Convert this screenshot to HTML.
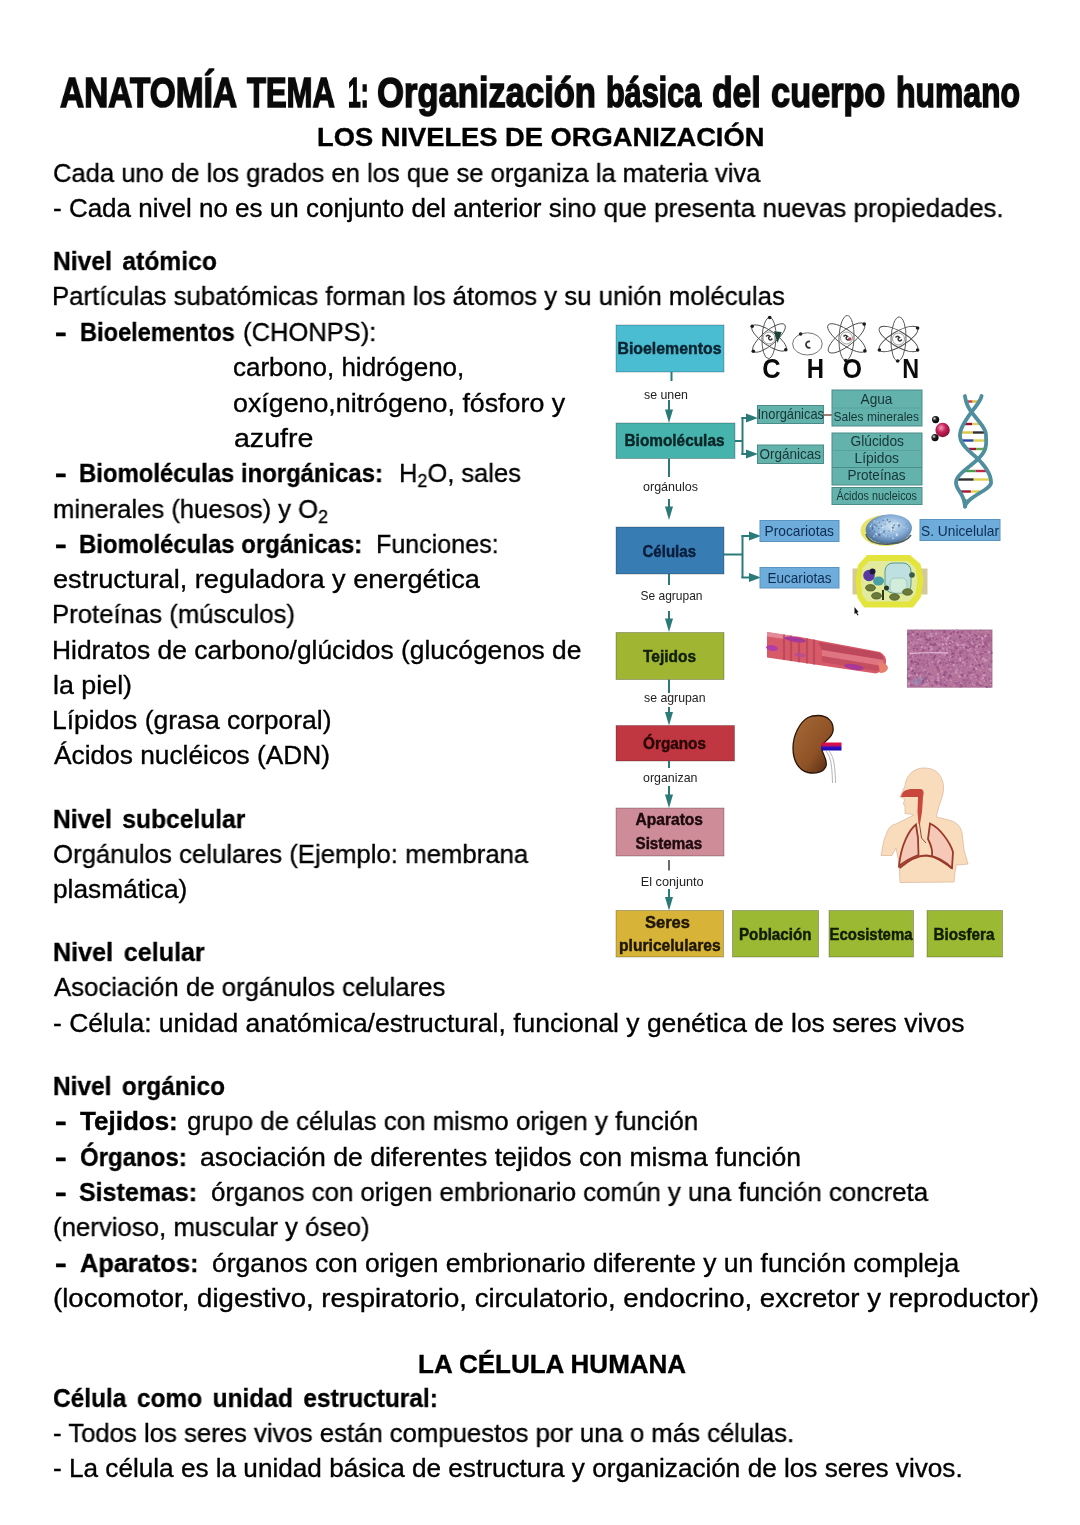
<!DOCTYPE html><html><head><meta charset="utf-8"><title>Anatomía Tema 1</title><style>
*{margin:0;padding:0;box-sizing:border-box}
html,body{width:1080px;height:1525px;background:#fff;overflow:hidden}
body{position:relative;font-family:"Liberation Sans",sans-serif;color:#000}
.ln{-webkit-text-stroke:0.35px #000}
.ln{position:absolute;white-space:nowrap;line-height:1;transform-origin:0 0;will-change:transform}
.ln b{font-weight:700}
.ln .dash{-webkit-text-stroke:0.6px #000}
.ln sub{font-size:0.7em;vertical-align:baseline;position:relative;top:0.28em;line-height:0}
.ttl{font-weight:700;color:#0a0a0a;-webkit-text-stroke:1.6px #0a0a0a}
.bold{font-weight:700}
.cal{}
.bm{display:inline-block;width:0;height:0}
#dg{position:absolute;left:0;top:0;will-change:transform}
</style></head><body>
<div class="ln ttl" id="t1_0" style="left:59.94px;top:70.51px;font-size:43.00px;transform:scaleX(0.7772);">ANATOMÍA</div>
<div class="ln ttl" id="t1_1" style="left:246.70px;top:70.51px;font-size:43.00px;transform:scaleX(0.7216);">TEMA</div>
<div class="ln ttl" id="t1_2" style="left:347.64px;top:70.51px;font-size:43.00px;transform:scaleX(0.5328);">1:</div>
<div class="ln ttl" id="t1_3" style="left:376.76px;top:70.51px;font-size:43.00px;transform:scaleX(0.8040);">Organización</div>
<div class="ln ttl" id="t1_4" style="left:605.66px;top:70.51px;font-size:43.00px;transform:scaleX(0.7104);">básica</div>
<div class="ln ttl" id="t1_5" style="left:711.62px;top:70.51px;font-size:43.00px;transform:scaleX(0.7826);">del</div>
<div class="ln ttl" id="t1_6" style="left:770.80px;top:70.51px;font-size:43.00px;transform:scaleX(0.7981);">cuerpo</div>
<div class="ln ttl" id="t1_7" style="left:895.69px;top:70.51px;font-size:43.00px;transform:scaleX(0.7415);">humano</div>
<div class="ln bold" id="t2" style="left:316.81px;top:125.01px;font-size:25.00px;transform:scaleX(1.0918);">LOS NIVELES DE ORGANIZACIÓN</div>
<div class="ln" id="l3" style="left:53.02px;top:159.71px;font-size:26.00px;transform:scaleX(0.9829);">Cada uno de los grados en los que se organiza la materia viva</div>
<div class="ln" id="l4" style="left:53.00px;top:195.00px;font-size:26.00px;transform:scaleX(0.9996);">- Cada nivel no es un conjunto del anterior sino que presenta nuevas propiedades.</div>
<div class="ln" id="l5" style="left:53.11px;top:248.00px;font-size:26.00px;transform:scaleX(0.9466);"><b style="word-spacing:4px">Nivel atómico</b></div>
<div class="ln" id="l6" style="left:52.02px;top:283.41px;font-size:26.00px;transform:scaleX(0.9904);">Partículas subatómicas forman los átomos y su unión moléculas</div>
<div class="ln" id="l7d" style="left:54.94px;top:319.00px;font-size:26.00px;transform:scaleX(1.3382);"><b class="dash">-</b></div>
<div class="ln" id="l7" style="left:80.07px;top:319.00px;font-size:26.00px;transform:scaleX(0.9079);"><b>Bioelementos</b></div>
<div class="ln" id="l7b" style="left:243.03px;top:319.00px;font-size:26.00px;transform:scaleX(0.9818);"><span class="cal">(CHONPS):</span></div>
<div class="ln" id="l8" style="left:233.40px;top:354.30px;font-size:26.00px;transform:scaleX(1.0000);">carbono, hidrógeno,</div>
<div class="ln" id="l9" style="left:233.36px;top:389.61px;font-size:26.00px;transform:scaleX(1.0304);">oxígeno,nitrógeno, fósforo y</div>
<div class="ln" id="l10" style="left:234.25px;top:425.00px;font-size:26.00px;transform:scaleX(1.0977);">azufre</div>
<div class="ln" id="l11d" style="left:54.94px;top:460.41px;font-size:26.00px;transform:scaleX(1.3382);"><b class="dash">-</b></div>
<div class="ln" id="l11" style="left:79.14px;top:460.41px;font-size:26.00px;transform:scaleX(0.9186);"><b>Biomoléculas inorgánicas:</b></div>
<div class="ln" id="l11b" style="left:399.04px;top:460.41px;font-size:26.00px;transform:scaleX(0.9813);">H<sub>2</sub>O, sales</div>
<div class="ln" id="l12" style="left:53.06px;top:495.71px;font-size:26.00px;transform:scaleX(0.9864);">minerales (huesos) y O<sub>2</sub></div>
<div class="ln" id="l13d" style="left:54.94px;top:531.00px;font-size:26.00px;transform:scaleX(1.3382);"><b class="dash">-</b></div>
<div class="ln" id="l13" style="left:79.13px;top:531.00px;font-size:26.00px;transform:scaleX(0.9202);"><b>Biomoléculas orgánicas:</b></div>
<div class="ln" id="l13b" style="left:376.06px;top:531.00px;font-size:26.00px;transform:scaleX(0.9644);">Funciones:</div>
<div class="ln" id="l14" style="left:52.95px;top:566.30px;font-size:26.00px;transform:scaleX(1.0436);">estructural, reguladora y energética</div>
<div class="ln" id="l15" style="left:52.00px;top:601.41px;font-size:26.00px;transform:scaleX(0.9891);">Proteínas (músculos)</div>
<div class="ln" id="l16" style="left:51.97px;top:636.61px;font-size:26.00px;transform:scaleX(1.0147);">Hidratos de carbono/glúcidos (glucógenos de</div>
<div class="ln" id="l17" style="left:52.86px;top:672.00px;font-size:26.00px;transform:scaleX(1.0318);">la piel)</div>
<div class="ln" id="l18" style="left:51.91px;top:707.00px;font-size:26.00px;transform:scaleX(1.0180);">Lípidos (grasa corporal)</div>
<div class="ln" id="l19" style="left:54.00px;top:742.41px;font-size:26.00px;transform:scaleX(1.0108);">Ácidos nucléicos (ADN)</div>
<div class="ln" id="l20" style="left:53.02px;top:805.91px;font-size:26.00px;transform:scaleX(0.9458);"><b style="word-spacing:4px">Nivel subcelular</b></div>
<div class="ln" id="l21" style="left:53.01px;top:840.50px;font-size:26.00px;transform:scaleX(0.9906);">Orgánulos celulares (Ejemplo: membrana</div>
<div class="ln" id="l22" style="left:52.96px;top:876.00px;font-size:26.00px;transform:scaleX(1.0099);">plasmática)</div>
<div class="ln" id="l23" style="left:53.01px;top:938.61px;font-size:26.00px;transform:scaleX(0.9653);"><b style="word-spacing:4px">Nivel celular</b></div>
<div class="ln" id="l24" style="left:54.00px;top:973.71px;font-size:26.00px;transform:scaleX(0.9919);">Asociación de orgánulos celulares</div>
<div class="ln" id="l25" style="left:52.98px;top:1009.50px;font-size:26.00px;transform:scaleX(1.0172);">- Célula: unidad anatómica/estructural, funcional y genética de los seres vivos</div>
<div class="ln" id="l26" style="left:53.04px;top:1072.50px;font-size:26.00px;transform:scaleX(0.9393);"><b style="word-spacing:4px">Nivel orgánico</b></div>
<div class="ln" id="l27d" style="left:54.94px;top:1108.00px;font-size:26.00px;transform:scaleX(1.3382);"><b class="dash">-</b></div>
<div class="ln" id="l27" style="left:80.00px;top:1108.00px;font-size:26.00px;transform:scaleX(1.0004);"><b>Tejidos:</b></div>
<div class="ln" id="l27b" style="left:187.00px;top:1108.00px;font-size:26.00px;transform:scaleX(0.9937);">grupo de células con mismo origen y función</div>
<div class="ln" id="l28d" style="left:54.94px;top:1143.50px;font-size:26.00px;transform:scaleX(1.3382);"><b class="dash">-</b></div>
<div class="ln" id="l28" style="left:79.99px;top:1143.50px;font-size:26.00px;transform:scaleX(0.9236);"><b>Órganos:</b></div>
<div class="ln" id="l28b" style="left:199.97px;top:1143.50px;font-size:26.00px;transform:scaleX(1.0245);">asociación de diferentes tejidos con misma función</div>
<div class="ln" id="l29d" style="left:54.94px;top:1178.91px;font-size:26.00px;transform:scaleX(1.3382);"><b class="dash">-</b></div>
<div class="ln" id="l29" style="left:79.04px;top:1178.91px;font-size:26.00px;transform:scaleX(0.9610);"><b>Sistemas:</b></div>
<div class="ln" id="l29b" style="left:211.00px;top:1178.91px;font-size:26.00px;transform:scaleX(0.9943);">órganos con origen embrionario común y una función concreta</div>
<div class="ln" id="l30" style="left:53.04px;top:1214.21px;font-size:26.00px;transform:scaleX(0.9913);">(nervioso, muscular y óseo)</div>
<div class="ln" id="l31d" style="left:54.94px;top:1249.61px;font-size:26.00px;transform:scaleX(1.3382);"><b class="dash">-</b></div>
<div class="ln" id="l31" style="left:80.01px;top:1249.61px;font-size:26.00px;transform:scaleX(0.9764);"><b>Aparatos:</b></div>
<div class="ln" id="l31b" style="left:211.97px;top:1249.61px;font-size:26.00px;transform:scaleX(1.0176);">órganos con origen embrionario diferente y un función compleja</div>
<div class="ln" id="l32" style="left:52.88px;top:1285.00px;font-size:26.00px;transform:scaleX(1.0610);">(locomotor, digestivo, respiratorio, circulatorio, endocrino, excretor y reproductor)</div>
<div class="ln bold" id="t33" style="left:418.16px;top:1351.81px;font-size:25.00px;transform:scaleX(1.0398);">LA CÉLULA HUMANA</div>
<div class="ln" id="l34" style="left:53.06px;top:1384.50px;font-size:26.00px;transform:scaleX(0.9402);"><b style="word-spacing:4px">Célula como unidad estructural:</b></div>
<div class="ln" id="l35" style="left:53.01px;top:1420.00px;font-size:26.00px;transform:scaleX(0.9889);">- Todos los seres vivos están compuestos por una o más células.</div>
<div class="ln" id="l36" style="left:52.99px;top:1455.30px;font-size:26.00px;transform:scaleX(1.0055);">- La célula es la unidad básica de estructura y organización de los seres vivos.</div>
<svg id="dg" width="1080" height="1525" viewBox="0 0 1080 1525" style="font-family:'Liberation Sans',sans-serif">
<rect x="616" y="325" width="108" height="47" fill="#4abdd3" stroke="rgba(0,0,0,0.25)" stroke-width="1"/>
<text x="617.5" y="354.4" font-size="17" font-weight="bold" fill="#0b2430" stroke="#0b2430" stroke-width="0.45" textLength="104.0" lengthAdjust="spacingAndGlyphs">Bioelementos</text>
<line x1="671.5" y1="372" x2="671.5" y2="381" stroke="#2a7b78" stroke-width="2"/>
<text x="644" y="398.6" font-size="13" font-weight="normal" fill="#222" textLength="44.0" lengthAdjust="spacingAndGlyphs">se unen</text>
<line x1="669" y1="400" x2="669" y2="411.5" stroke="#2a7b78" stroke-width="2"/>
<polygon points="665,409.5 673,409.5 669,423" fill="#2a7b78"/>
<rect x="616" y="423" width="119" height="35.5" fill="#46b4ac" stroke="rgba(0,0,0,0.25)" stroke-width="1"/>
<text x="624.5" y="446" font-size="17" font-weight="bold" fill="#0a2628" stroke="#0a2628" stroke-width="0.45" textLength="100.0" lengthAdjust="spacingAndGlyphs">Biomoléculas</text>
<line x1="669" y1="458.5" x2="669" y2="477" stroke="#2a7b78" stroke-width="2"/>
<text x="643" y="491.3" font-size="13" font-weight="normal" fill="#222" textLength="55.0" lengthAdjust="spacingAndGlyphs">orgánulos</text>
<line x1="669" y1="499" x2="669" y2="508.5" stroke="#2a7b78" stroke-width="2"/>
<polygon points="665,506.5 673,506.5 669,520" fill="#2a7b78"/>
<rect x="616" y="527" width="108" height="47" fill="#377db4" stroke="rgba(0,0,0,0.25)" stroke-width="1"/>
<text x="642.5" y="556.7" font-size="17" font-weight="bold" fill="#0a1e3c" stroke="#0a1e3c" stroke-width="0.45" textLength="53.5" lengthAdjust="spacingAndGlyphs">Células</text>
<line x1="669" y1="574" x2="669" y2="585" stroke="#2a7b78" stroke-width="2"/>
<text x="640.5" y="599.6" font-size="13" font-weight="normal" fill="#222" textLength="62.0" lengthAdjust="spacingAndGlyphs">Se agrupan</text>
<line x1="669" y1="611" x2="669" y2="620.5" stroke="#2a7b78" stroke-width="2"/>
<polygon points="665,618.5 673,618.5 669,632" fill="#2a7b78"/>
<rect x="616" y="632.5" width="108" height="47.0" fill="#a0b632" stroke="rgba(0,0,0,0.25)" stroke-width="1"/>
<text x="643" y="661.5" font-size="17" font-weight="bold" fill="#102008" stroke="#102008" stroke-width="0.45" textLength="53.0" lengthAdjust="spacingAndGlyphs">Tejidos</text>
<line x1="669" y1="679.5" x2="669" y2="693" stroke="#2a7b78" stroke-width="2"/>
<text x="644" y="702.2" font-size="13" font-weight="normal" fill="#222" textLength="61.5" lengthAdjust="spacingAndGlyphs">se agrupan</text>
<line x1="669" y1="707" x2="669" y2="714.0" stroke="#2a7b78" stroke-width="2"/>
<polygon points="665,712.0 673,712.0 669,725.5" fill="#2a7b78"/>
<rect x="616" y="725.5" width="118.5" height="35.5" fill="#c03741" stroke="rgba(0,0,0,0.25)" stroke-width="1"/>
<text x="643" y="749" font-size="17" font-weight="bold" fill="#2a0808" stroke="#2a0808" stroke-width="0.45" textLength="63.0" lengthAdjust="spacingAndGlyphs">Órganos</text>
<line x1="669" y1="761" x2="669" y2="768" stroke="#2a7b78" stroke-width="2"/>
<text x="643" y="782.2" font-size="13" font-weight="normal" fill="#222" textLength="54.5" lengthAdjust="spacingAndGlyphs">organizan</text>
<line x1="669" y1="786" x2="669" y2="796.5" stroke="#2a7b78" stroke-width="2"/>
<polygon points="665,794.5 673,794.5 669,808" fill="#2a7b78"/>
<rect x="616" y="808" width="108" height="48" fill="#cd8c98" stroke="rgba(0,0,0,0.25)" stroke-width="1"/>
<text x="635.5" y="825.2" font-size="17" font-weight="bold" fill="#1e0a0e" stroke="#1e0a0e" stroke-width="0.45" textLength="67.5" lengthAdjust="spacingAndGlyphs">Aparatos</text>
<text x="635.5" y="849" font-size="17" font-weight="bold" fill="#1e0a0e" stroke="#1e0a0e" stroke-width="0.45" textLength="66.7" lengthAdjust="spacingAndGlyphs">Sistemas</text>
<line x1="669" y1="860" x2="669" y2="870.5" stroke="#444" stroke-width="1.6"/>
<text x="640.7" y="886" font-size="13" font-weight="normal" fill="#222" textLength="63.0" lengthAdjust="spacingAndGlyphs">El conjunto</text>
<line x1="669" y1="889" x2="669" y2="899.0" stroke="#2a7b78" stroke-width="2"/>
<polygon points="665,897.0 673,897.0 669,910.5" fill="#2a7b78"/>
<rect x="616" y="910.5" width="107.5" height="46.5" fill="#d7b437" stroke="rgba(0,0,0,0.25)" stroke-width="1"/>
<text x="645" y="928.4" font-size="17" font-weight="bold" fill="#1e1606" stroke="#1e1606" stroke-width="0.45" textLength="45.0" lengthAdjust="spacingAndGlyphs">Seres</text>
<text x="619" y="951.2" font-size="17" font-weight="bold" fill="#1e1606" stroke="#1e1606" stroke-width="0.45" textLength="101.7" lengthAdjust="spacingAndGlyphs">pluricelulares</text>
<rect x="732.5" y="910.5" width="86.0" height="46.5" fill="#9bb932" stroke="rgba(0,0,0,0.25)" stroke-width="1"/>
<text x="739" y="939.7" font-size="17" font-weight="bold" fill="#101c04" stroke="#101c04" stroke-width="0.45" textLength="72.5" lengthAdjust="spacingAndGlyphs">Población</text>
<rect x="829" y="910.5" width="84.5" height="46.5" fill="#9bb932" stroke="rgba(0,0,0,0.25)" stroke-width="1"/>
<text x="829.5" y="939.7" font-size="17" font-weight="bold" fill="#101c04" stroke="#101c04" stroke-width="0.45" textLength="83.0" lengthAdjust="spacingAndGlyphs">Ecosistema</text>
<rect x="927" y="910.5" width="75.5" height="46.5" fill="#9bb932" stroke="rgba(0,0,0,0.25)" stroke-width="1"/>
<text x="933.5" y="939.7" font-size="17" font-weight="bold" fill="#101c04" stroke="#101c04" stroke-width="0.45" textLength="61.0" lengthAdjust="spacingAndGlyphs">Biosfera</text>
<line x1="735" y1="441" x2="742.5" y2="441" stroke="#2a7b78" stroke-width="2"/>
<line x1="742.5" y1="417" x2="742.5" y2="455" stroke="#2a7b78" stroke-width="2"/>
<line x1="741.5" y1="418" x2="748" y2="418" stroke="#2a7b78" stroke-width="2"/>
<polygon points="746,413.5 746,422.5 758,418" fill="#2a7b78"/>
<line x1="741.5" y1="454" x2="748" y2="454" stroke="#2a7b78" stroke-width="2"/>
<polygon points="746,449.5 746,458.5 758,454" fill="#2a7b78"/>
<rect x="757.5" y="405.5" width="66.0" height="18.0" fill="#64b2ac" stroke="#4a8c88" stroke-width="1"/>
<text x="757.5" y="419" font-size="15" font-weight="normal" fill="#163636" textLength="66.5" lengthAdjust="spacingAndGlyphs">Inorgánicas</text>
<rect x="757.5" y="445" width="66.0" height="18.5" fill="#64b2ac" stroke="#4a8c88" stroke-width="1"/>
<text x="759.5" y="458.7" font-size="15" font-weight="normal" fill="#163636" textLength="61.5" lengthAdjust="spacingAndGlyphs">Orgánicas</text>
<line x1="823.5" y1="415" x2="833" y2="415" stroke="#8a5a52" stroke-width="1.6"/>
<rect x="832" y="390" width="90" height="36" fill="#64b2ac" stroke="#4a8c88" stroke-width="1"/>
<line x1="832" y1="408" x2="922" y2="408" stroke="#58a29c" stroke-width="1"/>
<text x="860.5" y="404" font-size="15" font-weight="normal" fill="#163636" textLength="32.0" lengthAdjust="spacingAndGlyphs">Agua</text>
<text x="833.5" y="421" font-size="13" font-weight="normal" fill="#163636" textLength="85.5" lengthAdjust="spacingAndGlyphs">Sales minerales</text>
<rect x="832" y="433" width="90" height="52" fill="#64b2ac" stroke="#4a8c88" stroke-width="1"/>
<line x1="832" y1="450.5" x2="922" y2="450.5" stroke="#58a29c" stroke-width="1"/>
<line x1="832" y1="467.5" x2="922" y2="467.5" stroke="#4a8c88" stroke-width="1.2"/>
<text x="850.5" y="445.7" font-size="15" font-weight="normal" fill="#163636" textLength="53.5" lengthAdjust="spacingAndGlyphs">Glúcidos</text>
<text x="854.5" y="463.3" font-size="15" font-weight="normal" fill="#163636" textLength="44.5" lengthAdjust="spacingAndGlyphs">Lípidos</text>
<text x="847.5" y="480" font-size="15" font-weight="normal" fill="#163636" textLength="58.0" lengthAdjust="spacingAndGlyphs">Proteínas</text>
<rect x="832" y="487.5" width="90" height="17.0" fill="#64b2ac" stroke="#4a8c88" stroke-width="1"/>
<text x="836.5" y="500" font-size="12" font-weight="normal" fill="#163636" textLength="80.5" lengthAdjust="spacingAndGlyphs">Ácidos nucleicos</text>
<line x1="724" y1="554.5" x2="743" y2="554.5" stroke="#2a7b78" stroke-width="2"/>
<line x1="742.5" y1="535" x2="742.5" y2="578" stroke="#2a7b78" stroke-width="2"/>
<line x1="741.5" y1="536" x2="751" y2="536" stroke="#2a7b78" stroke-width="2"/>
<polygon points="749,531.5 749,540.5 761,536" fill="#2a7b78"/>
<line x1="741.5" y1="577.5" x2="751" y2="577.5" stroke="#2a7b78" stroke-width="2"/>
<polygon points="749,573.0 749,582.0 761,577.5" fill="#2a7b78"/>
<rect x="760" y="520.5" width="79" height="21.0" fill="#6eacdc" stroke="#5a94c0" stroke-width="1"/>
<text x="764.5" y="535.6" font-size="15" font-weight="normal" fill="#0d2d50" textLength="69.5" lengthAdjust="spacingAndGlyphs">Procariotas</text>
<rect x="760" y="567.5" width="79" height="20.5" fill="#6eacdc" stroke="#5a94c0" stroke-width="1"/>
<text x="767.5" y="583" font-size="15" font-weight="normal" fill="#0d2d50" textLength="64.0" lengthAdjust="spacingAndGlyphs">Eucariotas</text>
<rect x="920" y="519.5" width="80" height="21.0" fill="#6eacdc" stroke="#5a94c0" stroke-width="1"/>
<text x="921" y="535.5" font-size="15" font-weight="normal" fill="#0d2d50" textLength="78.0" lengthAdjust="spacingAndGlyphs">S. Unicelular</text>
<defs>
<radialGradient id="gRed" cx="0.4" cy="0.35" r="0.7"><stop offset="0" stop-color="#f0a0b8"/><stop offset="0.45" stop-color="#c8205a"/><stop offset="1" stop-color="#7a0e30"/></radialGradient>
<radialGradient id="gBlk" cx="0.35" cy="0.35" r="0.7"><stop offset="0" stop-color="#ddd"/><stop offset="0.4" stop-color="#222"/><stop offset="1" stop-color="#000"/></radialGradient>
<radialGradient id="gPro" cx="0.55" cy="0.4" r="0.65"><stop offset="0" stop-color="#cfe4f2"/><stop offset="0.55" stop-color="#86aed6"/><stop offset="1" stop-color="#3f6290"/></radialGradient>
<linearGradient id="gKid" x1="0" y1="0" x2="1" y2="1"><stop offset="0" stop-color="#a86a36"/><stop offset="0.6" stop-color="#8e5226"/><stop offset="1" stop-color="#4a2410"/></linearGradient>
<linearGradient id="gVes" x1="0" y1="0" x2="0" y2="1"><stop offset="0" stop-color="#e01040"/><stop offset="0.45" stop-color="#c01060"/><stop offset="0.55" stop-color="#3010d0"/><stop offset="1" stop-color="#1a08a0"/></linearGradient>
<filter id="fTex" x="0" y="0" width="1" height="1"><feTurbulence type="fractalNoise" baseFrequency="0.35" numOctaves="2" seed="3" result="n"/><feColorMatrix in="n" type="matrix" values="0 0 0 0 0.45  0 0 0 0 0.2  0 0 0 0 0.35  0 0 0 1.4 -0.55" result="c"/><feComposite in="c" in2="SourceGraphic" operator="in"/></filter>
</defs>
<ellipse cx="769" cy="338" rx="20.5" ry="7" fill="none" stroke="#4a4a4a" stroke-width="0.9" transform="rotate(92 769 338)"/>
<ellipse cx="769" cy="338" rx="20.5" ry="7" fill="none" stroke="#4a4a4a" stroke-width="0.9" transform="rotate(35 769 338)"/>
<ellipse cx="769" cy="338" rx="20.5" ry="7" fill="none" stroke="#4a4a4a" stroke-width="0.9" transform="rotate(140 769 338)"/>
<circle cx="769" cy="338" r="6" fill="none" stroke="#888" stroke-width="0.8"/>
<path d="M766 336.5 q2 -2.5 4 0 q-2.5 1 -0.5 3.2 q1.5 1 2.8 -1.2" fill="none" stroke="#333" stroke-width="1.5"/>
<circle cx="769.7" cy="317.5" r="1.8" fill="#1a1a1a"/>
<circle cx="785.8" cy="349.8" r="1.8" fill="#1a1a1a"/>
<circle cx="753.3" cy="351.2" r="1.8" fill="#1a1a1a"/>
<circle cx="752.2" cy="326.2" r="1.8" fill="#1a1a1a"/>
<polygon points="773.9,331.3 781.7,332 777.6,343.1" fill="#1c4434"/>
<ellipse cx="807.4" cy="343.9" rx="14.8" ry="11.1" fill="none" stroke="#666" stroke-width="0.9"/>
<circle cx="800.6" cy="334" r="1.8" fill="#222"/>
<path d="M810 341.5 a3.2 3.2 0 1 0 0.5 6" fill="none" stroke="#333" stroke-width="1.8"/>
<ellipse cx="846.5" cy="338" rx="22.5" ry="7.5" fill="none" stroke="#4a4a4a" stroke-width="0.9" transform="rotate(-88 846.5 338)"/>
<ellipse cx="846.5" cy="338" rx="22.5" ry="7.5" fill="none" stroke="#4a4a4a" stroke-width="0.9" transform="rotate(35 846.5 338)"/>
<ellipse cx="846.5" cy="338" rx="22.5" ry="7.5" fill="none" stroke="#4a4a4a" stroke-width="0.9" transform="rotate(142 846.5 338)"/>
<circle cx="846.5" cy="338" r="6" fill="none" stroke="#888" stroke-width="0.8"/>
<path d="M843.5 336.5 q2 -2.5 4 0 q-2.5 1 -0.5 3.2 q1.5 1 2.8 -1.2" fill="none" stroke="#333" stroke-width="1.5"/>
<circle cx="845.7" cy="360.5" r="1.8" fill="#1a1a1a"/>
<circle cx="864.9" cy="350.9" r="1.8" fill="#1a1a1a"/>
<circle cx="864.2" cy="324.1" r="1.8" fill="#1a1a1a"/>
<circle cx="849.8" cy="339" r="1.7" fill="#a04050"/>
<ellipse cx="898.5" cy="339" rx="22" ry="7.5" fill="none" stroke="#4a4a4a" stroke-width="0.9" transform="rotate(-88 898.5 339)"/>
<ellipse cx="898.5" cy="339" rx="22" ry="7.5" fill="none" stroke="#4a4a4a" stroke-width="0.9" transform="rotate(30 898.5 339)"/>
<ellipse cx="898.5" cy="339" rx="22" ry="7.5" fill="none" stroke="#4a4a4a" stroke-width="0.9" transform="rotate(150 898.5 339)"/>
<circle cx="898.5" cy="339" r="6" fill="none" stroke="#888" stroke-width="0.8"/>
<path d="M895.5 337.5 q2 -2.5 4 0 q-2.5 1 -0.5 3.2 q1.5 1 2.8 -1.2" fill="none" stroke="#333" stroke-width="1.5"/>
<circle cx="897.7" cy="361.0" r="1.8" fill="#1a1a1a"/>
<circle cx="917.6" cy="350.0" r="1.8" fill="#1a1a1a"/>
<circle cx="917.6" cy="328.0" r="1.8" fill="#1a1a1a"/>
<circle cx="879.4" cy="350.0" r="1.8" fill="#1a1a1a"/>
<text x="762.2" y="377.8" font-size="27" font-weight="bold" fill="#0a0a0a" textLength="18.4" lengthAdjust="spacingAndGlyphs">C</text>
<text x="806.8000000000001" y="377.8" font-size="27" font-weight="bold" fill="#0a0a0a" textLength="17.3" lengthAdjust="spacingAndGlyphs">H</text>
<text x="842.6" y="377.8" font-size="27" font-weight="bold" fill="#0a0a0a" textLength="19.5" lengthAdjust="spacingAndGlyphs">O</text>
<text x="902.2" y="377.8" font-size="27" font-weight="bold" fill="#0a0a0a" textLength="16.9" lengthAdjust="spacingAndGlyphs">N</text>
<circle cx="935.6" cy="419.6" r="3.6" fill="url(#gBlk)"/>
<circle cx="935" cy="437.6" r="3.6" fill="url(#gBlk)"/>
<circle cx="942.6" cy="430" r="7.2" fill="url(#gRed)"/>
<line x1="967.3" y1="401.5" x2="972.6" y2="401.5" stroke="#c04040" stroke-width="2.4"/>
<line x1="972.6" y1="401.5" x2="977.9" y2="401.5" stroke="#d8c040" stroke-width="2.4"/>
<line x1="964.8" y1="424" x2="972.3" y2="424" stroke="#901030" stroke-width="2.4"/>
<line x1="972.3" y1="424" x2="979.7" y2="424" stroke="#e0d060" stroke-width="2.4"/>
<line x1="961.5" y1="432.5" x2="972.9" y2="432.5" stroke="#d8c848" stroke-width="2.4"/>
<line x1="972.9" y1="432.5" x2="984.4" y2="432.5" stroke="#303030" stroke-width="2.4"/>
<line x1="962.2" y1="440.5" x2="973.6" y2="440.5" stroke="#2848a0" stroke-width="2.4"/>
<line x1="973.6" y1="440.5" x2="984.9" y2="440.5" stroke="#e0d050" stroke-width="2.4"/>
<line x1="968.3" y1="449" x2="976.1" y2="449" stroke="#a01838" stroke-width="2.4"/>
<line x1="976.1" y1="449" x2="983.9" y2="449" stroke="#68a848" stroke-width="2.4"/>
<line x1="965.0" y1="471" x2="975.7" y2="471" stroke="#48a048" stroke-width="2.4"/>
<line x1="975.7" y1="471" x2="986.4" y2="471" stroke="#c02848" stroke-width="2.4"/>
<line x1="957.8" y1="479.5" x2="973.7" y2="479.5" stroke="#303030" stroke-width="2.4"/>
<line x1="973.7" y1="479.5" x2="989.6" y2="479.5" stroke="#e0d050" stroke-width="2.4"/>
<line x1="960.8" y1="491.5" x2="970.9" y2="491.5" stroke="#a01838" stroke-width="2.4"/>
<line x1="970.9" y1="491.5" x2="981.0" y2="491.5" stroke="#e0d050" stroke-width="2.4"/>
<line x1="965.1" y1="500.5" x2="966.5" y2="500.5" stroke="#283070" stroke-width="2.4"/>
<line x1="966.5" y1="500.5" x2="967.9" y2="500.5" stroke="#e0d050" stroke-width="2.4"/>
<polyline points="964.9,396.0 965.0,396.5 965.1,397.0 965.2,397.5 965.3,398.0 965.4,398.5 965.5,399.0 965.6,399.5 965.7,400.0 965.9,400.5 966.0,401.0 966.1,401.5 966.3,402.0 966.4,402.5 966.6,403.0 966.8,403.5 967.0,404.0 967.2,404.5 967.4,405.0 967.6,405.5 967.8,406.0 968.1,406.5 968.3,407.0 968.6,407.5 968.9,408.0 969.2,408.5 969.5,409.0 969.8,409.5 970.1,410.0 970.4,410.5 970.8,411.0 971.1,411.5 971.5,412.0 971.9,412.5 972.2,413.0 972.6,413.5 973.0,414.0 973.4,414.5 973.8,415.0 974.2,415.5 974.6,416.0 975.0,416.5 975.4,417.0 975.8,417.5 976.2,418.0 976.6,418.5 977.0,419.0 977.4,419.5 977.8,420.0 978.2,420.5 978.6,421.0 979.0,421.5 979.4,422.0 979.8,422.5 980.2,423.0 980.5,423.5 980.9,424.0 981.3,424.5 981.7,425.0 982.0,425.5 982.4,426.0 982.7,426.5 983.0,427.0 983.3,427.5 983.6,428.0 983.9,428.5 984.2,429.0 984.4,429.5 984.7,430.0 984.9,430.5 985.1,431.0 985.3,431.5 985.4,432.0 985.6,432.5 985.7,433.0 985.8,433.5 985.9,434.0 986.0,434.5 986.0,435.0 986.0,435.5 986.0,436.0 986.0,436.5 986.0,437.0 986.0,437.5 986.1,438.0 986.1,438.5 986.1,439.0 986.1,439.5 986.1,440.0 986.1,440.5 986.1,441.0 986.2,441.5 986.2,442.0 986.1,442.5 986.1,443.0 986.1,443.5 986.1,444.0 986.0,444.5 986.0,445.0 985.9,445.5 985.8,446.0 985.7,446.5 985.6,447.0 985.5,447.5 985.4,448.0 985.2,448.5 985.1,449.0 984.9,449.5 984.7,450.0 984.5,450.5 984.2,451.0 984.0,451.5 983.7,452.0 983.4,452.5 983.1,453.0 982.8,453.5 982.4,454.0 982.0,454.5 981.7,455.0 981.3,455.5 980.8,456.0 980.4,456.5 980.0,457.0 979.5,457.5 979.0,458.0 978.5,458.5 978.0,459.0 977.5,459.5 976.9,460.0 976.4,460.5 975.8,461.0 975.3,461.5 974.7,462.0 974.1,462.5 973.5,463.0 972.9,463.5 972.3,464.0 971.7,464.5 971.1,465.0 970.5,465.5 969.9,466.0 969.2,466.5 968.6,467.0 968.0,467.5 967.4,468.0 966.8,468.5 966.2,469.0 965.6,469.5 965.0,470.0 964.4,470.5 963.8,471.0 963.2,471.5 962.7,472.0 962.1,472.5 961.6,473.0 961.1,473.5 960.6,474.0 960.1,474.5 959.7,475.0 959.2,475.5 958.8,476.0 958.4,476.5 958.1,477.0 957.7,477.5 957.4,478.0 957.1,478.5 956.9,479.0 956.6,479.5 956.4,480.0 956.3,480.5 956.2,481.0 956.1,481.5 956.0,482.0 956.0,482.5 956.0,483.0 956.1,483.5 956.1,484.0 956.2,484.5 956.4,485.0 956.5,485.5 956.7,486.0 956.9,486.5 957.1,487.0 957.3,487.5 957.6,488.0 957.8,488.5 958.1,489.0 958.4,489.5 958.7,490.0 959.0,490.5 959.3,491.0 959.6,491.5 959.9,492.0 960.2,492.5 960.5,493.0 960.8,493.5 961.1,494.0 961.4,494.5 961.7,495.0 962.0,495.5 962.2,496.0 962.5,496.5 962.7,497.0 962.9,497.5 963.1,498.0 963.3,498.5 963.5,499.0 963.6,499.5 963.8,500.0 963.9,500.5 964.0,501.0 964.1,501.5 964.2,502.0 964.3,502.5 964.4,503.0 964.5,503.5 964.6,504.0 964.7,504.5 964.8,505.0 964.9,505.5 965.0,506.0 965.2,506.5" fill="none" stroke="#4e8e9e" stroke-width="3.8" stroke-linecap="round" stroke-linejoin="round"/>
<polyline points="981.6,396.0 981.4,396.5 981.3,397.0 981.1,397.5 980.9,398.0 980.7,398.5 980.4,399.0 980.2,399.5 979.9,400.0 979.7,400.5 979.4,401.0 979.1,401.5 978.8,402.0 978.5,402.5 978.2,403.0 977.9,403.5 977.5,404.0 977.2,404.5 976.8,405.0 976.5,405.5 976.1,406.0 975.7,406.5 975.4,407.0 975.0,407.5 974.6,408.0 974.2,408.5 973.8,409.0 973.4,409.5 973.0,410.0 972.6,410.5 972.2,411.0 971.9,411.5 971.5,412.0 971.1,412.5 970.8,413.0 970.4,413.5 970.1,414.0 969.7,414.5 969.4,415.0 969.0,415.5 968.7,416.0 968.3,416.5 968.0,417.0 967.7,417.5 967.3,418.0 967.0,418.5 966.7,419.0 966.3,419.5 966.0,420.0 965.7,420.5 965.4,421.0 965.1,421.5 964.8,422.0 964.5,422.5 964.2,423.0 963.9,423.5 963.6,424.0 963.4,424.5 963.1,425.0 962.8,425.5 962.6,426.0 962.3,426.5 962.1,427.0 961.9,427.5 961.7,428.0 961.5,428.5 961.3,429.0 961.1,429.5 960.9,430.0 960.8,430.5 960.6,431.0 960.5,431.5 960.4,432.0 960.3,432.5 960.2,433.0 960.1,433.5 960.1,434.0 960.0,434.5 960.0,435.0 960.0,435.5 960.0,436.0 960.0,436.5 960.1,437.0 960.2,437.5 960.3,438.0 960.4,438.5 960.5,439.0 960.7,439.5 960.8,440.0 961.0,440.5 961.2,441.0 961.5,441.5 961.7,442.0 962.0,442.5 962.3,443.0 962.6,443.5 962.9,444.0 963.2,444.5 963.6,445.0 964.0,445.5 964.4,446.0 964.8,446.5 965.2,447.0 965.6,447.5 966.1,448.0 966.6,448.5 967.1,449.0 967.5,449.5 968.1,450.0 968.6,450.5 969.1,451.0 969.6,451.5 970.2,452.0 970.7,452.5 971.3,453.0 971.9,453.5 972.4,454.0 973.0,454.5 973.6,455.0 974.1,455.5 974.7,456.0 975.3,456.5 975.8,457.0 976.4,457.5 976.9,458.0 977.5,458.5 978.0,459.0 978.5,459.5 979.0,460.0 979.5,460.5 980.0,461.0 980.4,461.5 980.9,462.0 981.4,462.5 981.8,463.0 982.2,463.5 982.6,464.0 983.0,464.5 983.4,465.0 983.8,465.5 984.2,466.0 984.6,466.5 985.0,467.0 985.3,467.5 985.7,468.0 986.0,468.5 986.3,469.0 986.7,469.5 987.0,470.0 987.3,470.5 987.6,471.0 987.8,471.5 988.1,472.0 988.4,472.5 988.6,473.0 988.9,473.5 989.1,474.0 989.3,474.5 989.5,475.0 989.7,475.5 989.9,476.0 990.0,476.5 990.2,477.0 990.3,477.5 990.5,478.0 990.6,478.5 990.7,479.0 990.8,479.5 990.8,480.0 990.9,480.5 990.9,481.0 991.0,481.5 991.0,482.0 991.0,482.5 991.0,483.0 990.9,483.5 990.7,484.0 990.4,484.5 990.1,485.0 989.8,485.5 989.4,486.0 988.9,486.5 988.4,487.0 987.8,487.5 987.2,488.0 986.6,488.5 985.9,489.0 985.2,489.5 984.5,490.0 983.7,490.5 983.0,491.0 982.2,491.5 981.4,492.0 980.6,492.5 979.8,493.0 978.9,493.5 978.1,494.0 977.3,494.5 976.5,495.0 975.8,495.5 975.0,496.0 974.2,496.5 973.5,497.0 972.8,497.5 972.1,498.0 971.4,498.5 970.8,499.0 970.2,499.5 969.6,500.0 969.1,500.5 968.5,501.0 968.1,501.5 967.6,502.0 967.2,502.5 966.8,503.0 966.4,503.5 966.1,504.0 965.8,504.5 965.5,505.0 965.3,505.5 965.0,506.0 964.8,506.5" fill="none" stroke="#4e8e9e" stroke-width="3.8" stroke-linecap="round" stroke-linejoin="round"/>
<ellipse cx="885.5" cy="530.5" rx="25" ry="15.5" fill="#e6e05a" opacity="0.9"/>
<ellipse cx="888.8" cy="529" rx="23.2" ry="14.6" fill="url(#gPro)" transform="rotate(-4 888.8 529)"/>
<circle cx="874.5" cy="531.6" r="0.8" fill="#3e5e8a" opacity="0.7"/>
<circle cx="894.1" cy="524.9" r="0.9" fill="#3e5e8a" opacity="0.7"/>
<circle cx="890.4" cy="525.5" r="0.6" fill="#b8d2ea" opacity="0.7"/>
<circle cx="870.5" cy="526.3" r="0.9" fill="#e8f2fa" opacity="0.7"/>
<circle cx="878.1" cy="533.9" r="0.9" fill="#5a7eaa" opacity="0.7"/>
<circle cx="891.3" cy="526.4" r="0.6" fill="#e8f2fa" opacity="0.7"/>
<circle cx="889.0" cy="531.1" r="0.7" fill="#3e5e8a" opacity="0.7"/>
<circle cx="881.4" cy="526.1" r="0.9" fill="#5a7eaa" opacity="0.7"/>
<circle cx="872.5" cy="529.0" r="1.0" fill="#3e5e8a" opacity="0.7"/>
<circle cx="876.4" cy="533.9" r="1.0" fill="#e8f2fa" opacity="0.7"/>
<circle cx="885.0" cy="534.3" r="0.5" fill="#b8d2ea" opacity="0.7"/>
<circle cx="882.7" cy="527.5" r="1.1" fill="#e8f2fa" opacity="0.7"/>
<circle cx="874.0" cy="536.7" r="0.6" fill="#e8f2fa" opacity="0.7"/>
<circle cx="892.9" cy="527.8" r="1.2" fill="#3e5e8a" opacity="0.7"/>
<circle cx="884.5" cy="530.9" r="1.0" fill="#5a7eaa" opacity="0.7"/>
<circle cx="888.1" cy="532.5" r="0.5" fill="#b8d2ea" opacity="0.7"/>
<circle cx="872.6" cy="535.2" r="0.7" fill="#5a7eaa" opacity="0.7"/>
<circle cx="892.7" cy="530.7" r="0.6" fill="#3e5e8a" opacity="0.7"/>
<circle cx="876.3" cy="526.1" r="1.2" fill="#5a7eaa" opacity="0.7"/>
<circle cx="890.4" cy="521.3" r="0.6" fill="#3e5e8a" opacity="0.7"/>
<circle cx="880.7" cy="531.6" r="1.1" fill="#b8d2ea" opacity="0.7"/>
<circle cx="904.0" cy="527.5" r="0.6" fill="#e8f2fa" opacity="0.7"/>
<circle cx="874.2" cy="535.8" r="0.5" fill="#e8f2fa" opacity="0.7"/>
<circle cx="896.9" cy="535.3" r="1.0" fill="#e8f2fa" opacity="0.7"/>
<circle cx="883.6" cy="534.7" r="0.6" fill="#e8f2fa" opacity="0.7"/>
<circle cx="892.9" cy="538.3" r="0.9" fill="#e8f2fa" opacity="0.7"/>
<circle cx="879.5" cy="534.8" r="1.1" fill="#3e5e8a" opacity="0.7"/>
<circle cx="897.0" cy="534.6" r="0.7" fill="#5a7eaa" opacity="0.7"/>
<circle cx="890.9" cy="538.3" r="0.6" fill="#5a7eaa" opacity="0.7"/>
<circle cx="878.5" cy="522.5" r="1.1" fill="#3e5e8a" opacity="0.7"/>
<circle cx="878.5" cy="524.3" r="0.6" fill="#e8f2fa" opacity="0.7"/>
<circle cx="878.7" cy="528.5" r="0.7" fill="#3e5e8a" opacity="0.7"/>
<circle cx="895.7" cy="520.7" r="0.9" fill="#b8d2ea" opacity="0.7"/>
<circle cx="906.6" cy="523.9" r="0.7" fill="#5a7eaa" opacity="0.7"/>
<circle cx="871.6" cy="525.0" r="0.7" fill="#e8f2fa" opacity="0.7"/>
<circle cx="896.6" cy="526.3" r="0.5" fill="#e8f2fa" opacity="0.7"/>
<circle cx="880.3" cy="532.2" r="0.6" fill="#e8f2fa" opacity="0.7"/>
<circle cx="878.5" cy="535.7" r="0.6" fill="#5a7eaa" opacity="0.7"/>
<circle cx="897.5" cy="535.2" r="1.0" fill="#b8d2ea" opacity="0.7"/>
<circle cx="883.3" cy="520.4" r="0.9" fill="#5a7eaa" opacity="0.7"/>
<circle cx="901.0" cy="525.2" r="1.0" fill="#b8d2ea" opacity="0.7"/>
<circle cx="891.6" cy="528.6" r="0.8" fill="#e8f2fa" opacity="0.7"/>
<circle cx="887.4" cy="522.3" r="0.6" fill="#e8f2fa" opacity="0.7"/>
<circle cx="872.3" cy="526.1" r="1.1" fill="#5a7eaa" opacity="0.7"/>
<circle cx="899.0" cy="525.4" r="1.1" fill="#3e5e8a" opacity="0.7"/>
<circle cx="897.7" cy="523.4" r="1.1" fill="#e8f2fa" opacity="0.7"/>
<circle cx="874.6" cy="524.8" r="0.8" fill="#3e5e8a" opacity="0.7"/>
<circle cx="894.2" cy="529.3" r="0.9" fill="#e8f2fa" opacity="0.7"/>
<circle cx="907.5" cy="528.5" r="0.8" fill="#b8d2ea" opacity="0.7"/>
<circle cx="887.4" cy="519.9" r="0.8" fill="#3e5e8a" opacity="0.7"/>
<circle cx="874.9" cy="526.8" r="0.7" fill="#e8f2fa" opacity="0.7"/>
<circle cx="891.3" cy="529.9" r="0.8" fill="#e8f2fa" opacity="0.7"/>
<circle cx="874.4" cy="521.4" r="1.1" fill="#b8d2ea" opacity="0.7"/>
<circle cx="883.7" cy="532.4" r="0.9" fill="#5a7eaa" opacity="0.7"/>
<circle cx="889.1" cy="522.0" r="0.8" fill="#3e5e8a" opacity="0.7"/>
<circle cx="889.5" cy="536.6" r="0.6" fill="#b8d2ea" opacity="0.7"/>
<circle cx="872.5" cy="533.5" r="1.1" fill="#5a7eaa" opacity="0.7"/>
<circle cx="877.4" cy="535.1" r="0.6" fill="#b8d2ea" opacity="0.7"/>
<circle cx="896.7" cy="534.3" r="1.0" fill="#e8f2fa" opacity="0.7"/>
<circle cx="898.8" cy="527.0" r="0.6" fill="#5a7eaa" opacity="0.7"/>
<circle cx="869.9" cy="531.1" r="0.8" fill="#3e5e8a" opacity="0.7"/>
<circle cx="872.5" cy="527.8" r="0.7" fill="#3e5e8a" opacity="0.7"/>
<circle cx="893.8" cy="523.4" r="1.0" fill="#e8f2fa" opacity="0.7"/>
<circle cx="886.5" cy="536.0" r="0.9" fill="#e8f2fa" opacity="0.7"/>
<circle cx="881.6" cy="531.9" r="0.7" fill="#b8d2ea" opacity="0.7"/>
<circle cx="891.5" cy="531.0" r="0.8" fill="#e8f2fa" opacity="0.7"/>
<circle cx="877.7" cy="521.9" r="1.2" fill="#b8d2ea" opacity="0.7"/>
<circle cx="885.2" cy="524.1" r="0.7" fill="#3e5e8a" opacity="0.7"/>
<circle cx="884.9" cy="518.8" r="0.6" fill="#e8f2fa" opacity="0.7"/>
<circle cx="887.2" cy="536.0" r="0.8" fill="#5a7eaa" opacity="0.7"/>
<path d="M866 534 C868 542 878 545 890 544 C900 543 908 540 911 535" fill="none" stroke="#243c5e" stroke-width="1.6" opacity="0.8"/>
<rect x="852.5" y="568.5" width="8" height="26" fill="#cdbf86" opacity="0.85"/>
<rect x="919.5" y="568.5" width="8" height="26" fill="#cdbf86" opacity="0.85"/>
<polygon points="867,555 910,555 920.5,564 923.5,580 921,597 913,607.5 864,607.5 857.5,598 855.5,580 858,565" fill="#e3e53c"/>
<polygon points="869,561 908,561 915.5,568 917.5,580 915.5,594 909,601.5 867,601.5 862,594 861,580 862.5,568" fill="#e2ea9e"/>
<rect x="885" y="563" width="26" height="30" rx="8" fill="#bfe0e0" stroke="#5a9a8a" stroke-width="1"/>
<rect x="890" y="578" width="17" height="15" rx="5" fill="#d2ecdc" stroke="#9ac0b0" stroke-width="0.8"/>
<circle cx="869" cy="575.5" r="5.8" fill="#5a3aa0"/>
<circle cx="872.5" cy="571.5" r="3" fill="#1a1a40"/>
<ellipse cx="878.5" cy="581" rx="5.5" ry="4.5" fill="#4aa0a8"/>
<ellipse cx="870.5" cy="587.8" rx="5" ry="3.3" fill="#6a7a3a" stroke="#3a4a1a" stroke-width="0.6"/>
<ellipse cx="876.5" cy="595.8" rx="5" ry="3.3" fill="#6a7a3a" stroke="#3a4a1a" stroke-width="0.6"/>
<ellipse cx="894.5" cy="597" rx="5" ry="3.3" fill="#6a7a3a" stroke="#3a4a1a" stroke-width="0.6"/>
<ellipse cx="907.5" cy="592" rx="5" ry="3.3" fill="#6a7a3a" stroke="#3a4a1a" stroke-width="0.6"/>
<circle cx="912" cy="575" r="2.8" fill="#3a5a4a"/>
<circle cx="886.5" cy="588" r="2.5" fill="#2a3a2a"/>
<line x1="883" y1="590" x2="883" y2="600" stroke="#2a3a1a" stroke-width="2"/>
<path d="M854.5 607 L858.5 612 L857 612.5 L858.5 615 L857.5 615.5 L856 613 L854.5 614 Z" fill="#111"/>
<path d="M767 632 L800 637 L880 652 Q887 656 886 663 Q885 671 876 673.5 L767 657.5 Z" fill="#d65a68"/>
<path d="M767 632 L800 637 L800 641 L767 636.5 Z" fill="#ea96a6" opacity="0.8"/>
<path d="M818 642 L878 652.5 Q884 655 883.5 660 L822 650 Z" fill="#b84458" opacity="0.8"/>
<path d="M822 650 L883.5 660 Q884 664 882 666 L822 656 Z" fill="#e07884" opacity="0.9"/>
<path d="M822 656 L882 666 Q881 670 876 671 L822 662 Z" fill="#c04c5e" opacity="0.8"/>
<path d="M878 662 Q888 663 888 668 Q887 673 880 673 Z" fill="#e88070"/>
<line x1="784" y1="634.7" x2="784" y2="660.0" stroke="#b84458" stroke-width="2.2" opacity="0.75"/>
<line x1="791" y1="635.8" x2="791" y2="661.1" stroke="#b84458" stroke-width="2.2" opacity="0.75"/>
<line x1="799" y1="637.1" x2="799" y2="662.3" stroke="#b84458" stroke-width="2.2" opacity="0.75"/>
<line x1="807" y1="638.4" x2="807" y2="663.5" stroke="#b84458" stroke-width="2.2" opacity="0.75"/>
<line x1="814" y1="639.5" x2="814" y2="664.5" stroke="#b84458" stroke-width="2.2" opacity="0.75"/>
<ellipse cx="795" cy="639.5" rx="11" ry="2.6" fill="#a83898" transform="rotate(9 795 639.5)"/>
<ellipse cx="772" cy="648" rx="6" ry="2.8" fill="#b03ca8" transform="rotate(9 772 648)"/>
<ellipse cx="854" cy="667" rx="10" ry="2.8" fill="#a83898" transform="rotate(9 854 667)"/>
<ellipse cx="800" cy="655" rx="6" ry="2" fill="#b04c9c" opacity="0.7" transform="rotate(9 800 655)"/>
<rect x="907.4" y="629.9" width="84.7" height="57.4" fill="#b5739a"/>
<circle cx="935.0" cy="638.9" r="0.5" fill="#bc7ea4" opacity="0.8"/>
<circle cx="976.6" cy="635.7" r="0.6" fill="#8a4a7c" opacity="0.8"/>
<circle cx="950.4" cy="632.5" r="0.9" fill="#d2a0c2" opacity="0.8"/>
<circle cx="928.0" cy="661.5" r="1.2" fill="#9a5488" opacity="0.8"/>
<circle cx="918.3" cy="643.0" r="1.0" fill="#bc7ea4" opacity="0.8"/>
<circle cx="913.1" cy="663.4" r="1.4" fill="#9a5488" opacity="0.8"/>
<circle cx="911.8" cy="678.8" r="0.9" fill="#a2608e" opacity="0.8"/>
<circle cx="953.2" cy="662.6" r="1.2" fill="#8a4a7c" opacity="0.8"/>
<circle cx="923.0" cy="663.2" r="0.7" fill="#bc7ea4" opacity="0.8"/>
<circle cx="916.1" cy="670.6" r="0.6" fill="#8a4a7c" opacity="0.8"/>
<circle cx="925.1" cy="668.8" r="1.2" fill="#d2a0c2" opacity="0.8"/>
<circle cx="946.9" cy="682.5" r="0.8" fill="#a2608e" opacity="0.8"/>
<circle cx="974.4" cy="669.8" r="0.6" fill="#c88fb2" opacity="0.8"/>
<circle cx="933.0" cy="658.3" r="1.2" fill="#a2608e" opacity="0.8"/>
<circle cx="932.0" cy="685.7" r="1.0" fill="#9a5488" opacity="0.8"/>
<circle cx="921.7" cy="649.7" r="0.9" fill="#d2a0c2" opacity="0.8"/>
<circle cx="988.4" cy="634.8" r="1.0" fill="#8a4a7c" opacity="0.8"/>
<circle cx="981.2" cy="648.1" r="0.8" fill="#bc7ea4" opacity="0.8"/>
<circle cx="949.5" cy="675.3" r="1.3" fill="#9a5488" opacity="0.8"/>
<circle cx="987.0" cy="657.1" r="0.6" fill="#bc7ea4" opacity="0.8"/>
<circle cx="969.1" cy="647.9" r="1.4" fill="#8a4a7c" opacity="0.8"/>
<circle cx="976.7" cy="646.5" r="1.3" fill="#d2a0c2" opacity="0.8"/>
<circle cx="936.9" cy="683.5" r="0.7" fill="#a2608e" opacity="0.8"/>
<circle cx="917.7" cy="633.7" r="0.8" fill="#a86a98" opacity="0.8"/>
<circle cx="969.7" cy="652.8" r="0.9" fill="#a86a98" opacity="0.8"/>
<circle cx="921.8" cy="653.1" r="1.3" fill="#a2608e" opacity="0.8"/>
<circle cx="976.5" cy="679.1" r="1.1" fill="#a2608e" opacity="0.8"/>
<circle cx="990.5" cy="668.9" r="1.4" fill="#d2a0c2" opacity="0.8"/>
<circle cx="920.5" cy="640.3" r="1.1" fill="#c88fb2" opacity="0.8"/>
<circle cx="908.9" cy="677.3" r="0.7" fill="#c88fb2" opacity="0.8"/>
<circle cx="908.2" cy="654.0" r="1.0" fill="#a2608e" opacity="0.8"/>
<circle cx="934.6" cy="637.5" r="1.0" fill="#a86a98" opacity="0.8"/>
<circle cx="959.6" cy="668.5" r="0.9" fill="#9a5488" opacity="0.8"/>
<circle cx="980.8" cy="684.1" r="1.2" fill="#bc7ea4" opacity="0.8"/>
<circle cx="940.7" cy="652.9" r="0.9" fill="#9a5488" opacity="0.8"/>
<circle cx="941.4" cy="641.2" r="0.9" fill="#c88fb2" opacity="0.8"/>
<circle cx="917.1" cy="664.3" r="0.5" fill="#9a5488" opacity="0.8"/>
<circle cx="920.6" cy="636.1" r="1.1" fill="#a2608e" opacity="0.8"/>
<circle cx="913.8" cy="642.1" r="0.6" fill="#d2a0c2" opacity="0.8"/>
<circle cx="929.0" cy="650.0" r="0.9" fill="#a2608e" opacity="0.8"/>
<circle cx="917.6" cy="657.9" r="0.9" fill="#d2a0c2" opacity="0.8"/>
<circle cx="934.0" cy="638.5" r="0.8" fill="#bc7ea4" opacity="0.8"/>
<circle cx="930.1" cy="677.1" r="1.0" fill="#c88fb2" opacity="0.8"/>
<circle cx="925.1" cy="684.1" r="0.6" fill="#a2608e" opacity="0.8"/>
<circle cx="953.4" cy="631.9" r="0.8" fill="#8a4a7c" opacity="0.8"/>
<circle cx="961.7" cy="635.5" r="0.7" fill="#a86a98" opacity="0.8"/>
<circle cx="938.6" cy="639.8" r="0.7" fill="#a86a98" opacity="0.8"/>
<circle cx="953.2" cy="658.8" r="0.7" fill="#bc7ea4" opacity="0.8"/>
<circle cx="975.8" cy="685.9" r="0.7" fill="#a86a98" opacity="0.8"/>
<circle cx="927.9" cy="653.0" r="0.7" fill="#a86a98" opacity="0.8"/>
<circle cx="951.2" cy="650.5" r="1.4" fill="#9a5488" opacity="0.8"/>
<circle cx="974.0" cy="657.0" r="1.1" fill="#c88fb2" opacity="0.8"/>
<circle cx="988.0" cy="655.6" r="1.4" fill="#bc7ea4" opacity="0.8"/>
<circle cx="987.8" cy="651.0" r="0.6" fill="#c88fb2" opacity="0.8"/>
<circle cx="947.2" cy="649.4" r="1.1" fill="#d2a0c2" opacity="0.8"/>
<circle cx="983.3" cy="677.8" r="1.3" fill="#d2a0c2" opacity="0.8"/>
<circle cx="936.7" cy="666.7" r="1.1" fill="#a86a98" opacity="0.8"/>
<circle cx="984.0" cy="674.5" r="0.7" fill="#a86a98" opacity="0.8"/>
<circle cx="982.3" cy="654.9" r="0.8" fill="#bc7ea4" opacity="0.8"/>
<circle cx="974.9" cy="685.2" r="0.9" fill="#d2a0c2" opacity="0.8"/>
<circle cx="970.1" cy="635.2" r="0.7" fill="#c88fb2" opacity="0.8"/>
<circle cx="918.5" cy="638.9" r="1.2" fill="#d2a0c2" opacity="0.8"/>
<circle cx="920.1" cy="677.0" r="1.1" fill="#d2a0c2" opacity="0.8"/>
<circle cx="937.2" cy="661.3" r="0.5" fill="#c88fb2" opacity="0.8"/>
<circle cx="974.8" cy="671.4" r="1.0" fill="#9a5488" opacity="0.8"/>
<circle cx="986.0" cy="654.9" r="0.7" fill="#a86a98" opacity="0.8"/>
<circle cx="981.0" cy="632.0" r="0.8" fill="#c88fb2" opacity="0.8"/>
<circle cx="928.0" cy="663.5" r="1.0" fill="#a2608e" opacity="0.8"/>
<circle cx="977.7" cy="633.8" r="0.8" fill="#bc7ea4" opacity="0.8"/>
<circle cx="946.2" cy="663.3" r="0.9" fill="#8a4a7c" opacity="0.8"/>
<circle cx="984.7" cy="658.7" r="0.6" fill="#8a4a7c" opacity="0.8"/>
<circle cx="950.6" cy="679.6" r="0.7" fill="#a86a98" opacity="0.8"/>
<circle cx="908.2" cy="675.5" r="0.6" fill="#c88fb2" opacity="0.8"/>
<circle cx="959.7" cy="637.2" r="0.8" fill="#9a5488" opacity="0.8"/>
<circle cx="951.3" cy="661.7" r="1.2" fill="#a86a98" opacity="0.8"/>
<circle cx="981.8" cy="633.6" r="0.7" fill="#c88fb2" opacity="0.8"/>
<circle cx="972.5" cy="659.0" r="0.5" fill="#8a4a7c" opacity="0.8"/>
<circle cx="982.7" cy="634.0" r="1.1" fill="#a2608e" opacity="0.8"/>
<circle cx="950.2" cy="659.3" r="0.7" fill="#bc7ea4" opacity="0.8"/>
<circle cx="950.4" cy="675.9" r="1.3" fill="#8a4a7c" opacity="0.8"/>
<circle cx="966.4" cy="679.8" r="1.3" fill="#a2608e" opacity="0.8"/>
<circle cx="982.6" cy="641.8" r="0.6" fill="#d2a0c2" opacity="0.8"/>
<circle cx="918.1" cy="655.3" r="1.1" fill="#9a5488" opacity="0.8"/>
<circle cx="943.8" cy="642.4" r="1.2" fill="#a2608e" opacity="0.8"/>
<circle cx="983.0" cy="639.1" r="1.1" fill="#bc7ea4" opacity="0.8"/>
<circle cx="938.5" cy="644.7" r="1.4" fill="#c88fb2" opacity="0.8"/>
<circle cx="926.3" cy="684.1" r="1.3" fill="#d2a0c2" opacity="0.8"/>
<circle cx="921.5" cy="668.1" r="0.6" fill="#c88fb2" opacity="0.8"/>
<circle cx="944.0" cy="659.5" r="0.9" fill="#a2608e" opacity="0.8"/>
<circle cx="937.7" cy="635.6" r="0.5" fill="#a2608e" opacity="0.8"/>
<circle cx="954.3" cy="655.2" r="0.8" fill="#9a5488" opacity="0.8"/>
<circle cx="951.2" cy="647.1" r="0.6" fill="#9a5488" opacity="0.8"/>
<circle cx="984.8" cy="643.3" r="0.6" fill="#9a5488" opacity="0.8"/>
<circle cx="930.7" cy="681.5" r="0.7" fill="#c88fb2" opacity="0.8"/>
<circle cx="918.7" cy="654.2" r="1.2" fill="#bc7ea4" opacity="0.8"/>
<circle cx="929.5" cy="638.8" r="1.0" fill="#8a4a7c" opacity="0.8"/>
<circle cx="966.5" cy="635.4" r="1.2" fill="#9a5488" opacity="0.8"/>
<circle cx="923.2" cy="680.9" r="1.3" fill="#a2608e" opacity="0.8"/>
<circle cx="961.0" cy="675.6" r="1.0" fill="#9a5488" opacity="0.8"/>
<circle cx="926.5" cy="645.3" r="0.9" fill="#9a5488" opacity="0.8"/>
<circle cx="936.3" cy="661.6" r="1.1" fill="#a2608e" opacity="0.8"/>
<circle cx="911.5" cy="670.4" r="1.4" fill="#9a5488" opacity="0.8"/>
<circle cx="929.8" cy="640.6" r="1.1" fill="#a2608e" opacity="0.8"/>
<circle cx="952.4" cy="642.0" r="1.0" fill="#d2a0c2" opacity="0.8"/>
<circle cx="922.8" cy="650.0" r="1.4" fill="#9a5488" opacity="0.8"/>
<circle cx="911.0" cy="631.4" r="1.0" fill="#8a4a7c" opacity="0.8"/>
<circle cx="923.8" cy="657.2" r="0.6" fill="#d2a0c2" opacity="0.8"/>
<circle cx="976.4" cy="654.8" r="1.0" fill="#d2a0c2" opacity="0.8"/>
<circle cx="982.3" cy="685.1" r="1.1" fill="#a2608e" opacity="0.8"/>
<circle cx="990.1" cy="649.7" r="1.3" fill="#a86a98" opacity="0.8"/>
<circle cx="968.9" cy="638.3" r="1.4" fill="#a2608e" opacity="0.8"/>
<circle cx="978.0" cy="631.2" r="1.2" fill="#bc7ea4" opacity="0.8"/>
<circle cx="929.3" cy="639.6" r="1.1" fill="#9a5488" opacity="0.8"/>
<circle cx="939.8" cy="658.9" r="1.0" fill="#a2608e" opacity="0.8"/>
<circle cx="965.9" cy="633.0" r="0.6" fill="#c88fb2" opacity="0.8"/>
<circle cx="945.2" cy="645.2" r="1.4" fill="#a2608e" opacity="0.8"/>
<circle cx="953.7" cy="644.2" r="0.7" fill="#a2608e" opacity="0.8"/>
<circle cx="923.2" cy="649.3" r="0.9" fill="#9a5488" opacity="0.8"/>
<circle cx="950.0" cy="641.7" r="1.2" fill="#8a4a7c" opacity="0.8"/>
<circle cx="915.5" cy="676.5" r="0.9" fill="#c88fb2" opacity="0.8"/>
<circle cx="911.4" cy="631.7" r="1.1" fill="#a2608e" opacity="0.8"/>
<circle cx="915.0" cy="684.4" r="1.2" fill="#a86a98" opacity="0.8"/>
<circle cx="962.9" cy="670.8" r="0.9" fill="#8a4a7c" opacity="0.8"/>
<circle cx="935.2" cy="685.9" r="0.8" fill="#c88fb2" opacity="0.8"/>
<circle cx="959.7" cy="638.6" r="1.3" fill="#a86a98" opacity="0.8"/>
<circle cx="982.6" cy="665.8" r="1.1" fill="#bc7ea4" opacity="0.8"/>
<circle cx="950.2" cy="681.7" r="1.0" fill="#a86a98" opacity="0.8"/>
<circle cx="977.8" cy="675.8" r="1.1" fill="#a86a98" opacity="0.8"/>
<circle cx="974.7" cy="670.5" r="1.1" fill="#bc7ea4" opacity="0.8"/>
<circle cx="915.0" cy="632.8" r="0.8" fill="#bc7ea4" opacity="0.8"/>
<circle cx="916.7" cy="677.5" r="0.5" fill="#8a4a7c" opacity="0.8"/>
<circle cx="909.5" cy="660.4" r="0.9" fill="#c88fb2" opacity="0.8"/>
<circle cx="908.2" cy="675.4" r="1.3" fill="#bc7ea4" opacity="0.8"/>
<circle cx="983.1" cy="635.6" r="0.6" fill="#8a4a7c" opacity="0.8"/>
<circle cx="969.6" cy="644.6" r="1.3" fill="#9a5488" opacity="0.8"/>
<circle cx="927.6" cy="673.1" r="1.2" fill="#c88fb2" opacity="0.8"/>
<circle cx="989.6" cy="658.3" r="0.6" fill="#d2a0c2" opacity="0.8"/>
<circle cx="984.1" cy="646.6" r="1.1" fill="#9a5488" opacity="0.8"/>
<circle cx="961.7" cy="634.8" r="0.8" fill="#c88fb2" opacity="0.8"/>
<circle cx="962.4" cy="669.5" r="1.0" fill="#8a4a7c" opacity="0.8"/>
<circle cx="908.9" cy="633.8" r="1.4" fill="#a2608e" opacity="0.8"/>
<circle cx="916.2" cy="642.7" r="0.8" fill="#d2a0c2" opacity="0.8"/>
<circle cx="951.1" cy="656.6" r="1.2" fill="#d2a0c2" opacity="0.8"/>
<circle cx="991.0" cy="661.4" r="1.4" fill="#a2608e" opacity="0.8"/>
<circle cx="986.3" cy="631.4" r="0.6" fill="#d2a0c2" opacity="0.8"/>
<circle cx="950.3" cy="686.5" r="0.8" fill="#a2608e" opacity="0.8"/>
<circle cx="984.6" cy="682.9" r="1.0" fill="#9a5488" opacity="0.8"/>
<circle cx="919.8" cy="660.0" r="0.6" fill="#a2608e" opacity="0.8"/>
<circle cx="976.6" cy="659.1" r="1.1" fill="#9a5488" opacity="0.8"/>
<circle cx="927.3" cy="681.0" r="0.9" fill="#d2a0c2" opacity="0.8"/>
<circle cx="921.2" cy="684.0" r="0.9" fill="#bc7ea4" opacity="0.8"/>
<circle cx="933.2" cy="638.3" r="0.8" fill="#a2608e" opacity="0.8"/>
<circle cx="918.0" cy="649.1" r="1.2" fill="#a2608e" opacity="0.8"/>
<circle cx="978.1" cy="637.2" r="1.1" fill="#c88fb2" opacity="0.8"/>
<circle cx="983.4" cy="646.7" r="0.6" fill="#a2608e" opacity="0.8"/>
<circle cx="940.6" cy="679.5" r="0.8" fill="#9a5488" opacity="0.8"/>
<circle cx="943.7" cy="645.9" r="0.8" fill="#9a5488" opacity="0.8"/>
<circle cx="912.2" cy="667.7" r="1.3" fill="#bc7ea4" opacity="0.8"/>
<circle cx="928.8" cy="645.4" r="0.8" fill="#8a4a7c" opacity="0.8"/>
<circle cx="972.6" cy="674.7" r="1.3" fill="#d2a0c2" opacity="0.8"/>
<circle cx="975.9" cy="666.0" r="1.0" fill="#8a4a7c" opacity="0.8"/>
<circle cx="968.1" cy="633.2" r="0.9" fill="#bc7ea4" opacity="0.8"/>
<circle cx="959.4" cy="638.2" r="0.8" fill="#a86a98" opacity="0.8"/>
<circle cx="912.0" cy="682.7" r="0.7" fill="#c88fb2" opacity="0.8"/>
<circle cx="942.6" cy="646.3" r="1.2" fill="#a2608e" opacity="0.8"/>
<circle cx="989.6" cy="645.1" r="0.7" fill="#bc7ea4" opacity="0.8"/>
<circle cx="948.3" cy="668.1" r="0.7" fill="#9a5488" opacity="0.8"/>
<circle cx="921.4" cy="642.1" r="0.9" fill="#a86a98" opacity="0.8"/>
<circle cx="926.3" cy="681.5" r="0.9" fill="#a86a98" opacity="0.8"/>
<circle cx="919.6" cy="641.3" r="0.7" fill="#9a5488" opacity="0.8"/>
<circle cx="954.4" cy="648.4" r="0.7" fill="#a2608e" opacity="0.8"/>
<circle cx="955.6" cy="680.4" r="1.3" fill="#bc7ea4" opacity="0.8"/>
<circle cx="939.9" cy="672.5" r="0.8" fill="#c88fb2" opacity="0.8"/>
<circle cx="936.2" cy="633.9" r="1.0" fill="#a2608e" opacity="0.8"/>
<circle cx="938.0" cy="669.1" r="1.1" fill="#8a4a7c" opacity="0.8"/>
<circle cx="980.1" cy="642.6" r="1.3" fill="#a2608e" opacity="0.8"/>
<circle cx="940.1" cy="666.8" r="1.4" fill="#d2a0c2" opacity="0.8"/>
<circle cx="978.9" cy="679.6" r="0.6" fill="#9a5488" opacity="0.8"/>
<circle cx="943.5" cy="673.5" r="0.9" fill="#a86a98" opacity="0.8"/>
<circle cx="957.0" cy="630.4" r="1.3" fill="#d2a0c2" opacity="0.8"/>
<circle cx="985.6" cy="660.2" r="1.4" fill="#d2a0c2" opacity="0.8"/>
<circle cx="928.7" cy="636.6" r="0.6" fill="#c88fb2" opacity="0.8"/>
<circle cx="989.2" cy="636.5" r="1.1" fill="#a86a98" opacity="0.8"/>
<circle cx="962.1" cy="673.5" r="0.6" fill="#d2a0c2" opacity="0.8"/>
<circle cx="972.9" cy="630.5" r="0.7" fill="#c88fb2" opacity="0.8"/>
<circle cx="984.9" cy="666.8" r="1.4" fill="#a2608e" opacity="0.8"/>
<circle cx="960.3" cy="660.2" r="1.1" fill="#d2a0c2" opacity="0.8"/>
<circle cx="917.3" cy="634.4" r="1.3" fill="#8a4a7c" opacity="0.8"/>
<circle cx="923.9" cy="645.1" r="1.0" fill="#a86a98" opacity="0.8"/>
<circle cx="908.8" cy="647.4" r="0.8" fill="#d2a0c2" opacity="0.8"/>
<circle cx="934.4" cy="677.7" r="0.9" fill="#c88fb2" opacity="0.8"/>
<circle cx="927.6" cy="644.3" r="1.1" fill="#d2a0c2" opacity="0.8"/>
<circle cx="933.6" cy="631.6" r="1.3" fill="#d2a0c2" opacity="0.8"/>
<circle cx="962.1" cy="635.0" r="1.1" fill="#c88fb2" opacity="0.8"/>
<circle cx="985.3" cy="643.2" r="1.1" fill="#9a5488" opacity="0.8"/>
<circle cx="968.0" cy="650.8" r="0.7" fill="#d2a0c2" opacity="0.8"/>
<circle cx="974.6" cy="672.1" r="0.6" fill="#8a4a7c" opacity="0.8"/>
<circle cx="949.4" cy="641.7" r="1.2" fill="#a86a98" opacity="0.8"/>
<circle cx="927.2" cy="642.9" r="1.3" fill="#a86a98" opacity="0.8"/>
<circle cx="917.0" cy="665.6" r="0.7" fill="#8a4a7c" opacity="0.8"/>
<circle cx="926.6" cy="653.9" r="0.6" fill="#bc7ea4" opacity="0.8"/>
<circle cx="957.7" cy="682.4" r="0.7" fill="#9a5488" opacity="0.8"/>
<circle cx="989.4" cy="638.4" r="1.1" fill="#9a5488" opacity="0.8"/>
<circle cx="923.3" cy="655.8" r="1.3" fill="#bc7ea4" opacity="0.8"/>
<circle cx="969.2" cy="686.7" r="0.8" fill="#c88fb2" opacity="0.8"/>
<circle cx="923.4" cy="683.2" r="0.9" fill="#bc7ea4" opacity="0.8"/>
<circle cx="934.0" cy="671.3" r="0.8" fill="#a86a98" opacity="0.8"/>
<circle cx="935.7" cy="639.9" r="0.6" fill="#9a5488" opacity="0.8"/>
<circle cx="914.7" cy="654.1" r="1.0" fill="#9a5488" opacity="0.8"/>
<circle cx="971.4" cy="651.8" r="1.2" fill="#a86a98" opacity="0.8"/>
<circle cx="976.7" cy="654.8" r="1.1" fill="#9a5488" opacity="0.8"/>
<circle cx="924.3" cy="660.9" r="0.7" fill="#d2a0c2" opacity="0.8"/>
<circle cx="938.4" cy="681.0" r="1.1" fill="#9a5488" opacity="0.8"/>
<circle cx="928.7" cy="665.7" r="0.5" fill="#d2a0c2" opacity="0.8"/>
<circle cx="910.8" cy="633.9" r="0.7" fill="#9a5488" opacity="0.8"/>
<circle cx="970.4" cy="681.1" r="0.8" fill="#a2608e" opacity="0.8"/>
<circle cx="935.9" cy="684.2" r="0.7" fill="#9a5488" opacity="0.8"/>
<circle cx="967.9" cy="648.2" r="0.8" fill="#a2608e" opacity="0.8"/>
<circle cx="968.3" cy="664.0" r="1.1" fill="#a86a98" opacity="0.8"/>
<circle cx="986.9" cy="631.8" r="0.6" fill="#c88fb2" opacity="0.8"/>
<circle cx="967.8" cy="656.7" r="0.8" fill="#a86a98" opacity="0.8"/>
<circle cx="928.9" cy="654.6" r="0.6" fill="#d2a0c2" opacity="0.8"/>
<circle cx="949.5" cy="630.9" r="0.8" fill="#bc7ea4" opacity="0.8"/>
<circle cx="965.8" cy="638.9" r="0.8" fill="#c88fb2" opacity="0.8"/>
<circle cx="934.6" cy="650.8" r="1.0" fill="#a86a98" opacity="0.8"/>
<circle cx="950.7" cy="652.5" r="0.7" fill="#c88fb2" opacity="0.8"/>
<circle cx="913.3" cy="632.3" r="1.0" fill="#8a4a7c" opacity="0.8"/>
<circle cx="921.3" cy="654.5" r="1.4" fill="#9a5488" opacity="0.8"/>
<circle cx="930.1" cy="635.1" r="0.9" fill="#9a5488" opacity="0.8"/>
<circle cx="990.6" cy="685.2" r="0.7" fill="#c88fb2" opacity="0.8"/>
<circle cx="942.8" cy="665.4" r="0.7" fill="#bc7ea4" opacity="0.8"/>
<circle cx="953.0" cy="674.0" r="0.6" fill="#a86a98" opacity="0.8"/>
<circle cx="978.3" cy="647.0" r="0.7" fill="#8a4a7c" opacity="0.8"/>
<circle cx="929.2" cy="645.1" r="0.7" fill="#d2a0c2" opacity="0.8"/>
<circle cx="928.4" cy="639.0" r="0.7" fill="#8a4a7c" opacity="0.8"/>
<circle cx="913.3" cy="644.6" r="1.0" fill="#c88fb2" opacity="0.8"/>
<circle cx="927.3" cy="676.0" r="0.9" fill="#bc7ea4" opacity="0.8"/>
<circle cx="911.0" cy="630.7" r="0.7" fill="#a86a98" opacity="0.8"/>
<circle cx="945.4" cy="651.5" r="0.7" fill="#a2608e" opacity="0.8"/>
<circle cx="912.1" cy="664.3" r="1.0" fill="#a86a98" opacity="0.8"/>
<circle cx="985.8" cy="651.4" r="0.7" fill="#a86a98" opacity="0.8"/>
<circle cx="958.4" cy="674.1" r="1.4" fill="#bc7ea4" opacity="0.8"/>
<circle cx="916.8" cy="664.0" r="0.8" fill="#8a4a7c" opacity="0.8"/>
<circle cx="911.0" cy="649.6" r="0.7" fill="#9a5488" opacity="0.8"/>
<circle cx="929.2" cy="664.2" r="1.3" fill="#bc7ea4" opacity="0.8"/>
<circle cx="976.1" cy="676.6" r="1.1" fill="#d2a0c2" opacity="0.8"/>
<circle cx="923.4" cy="648.0" r="0.5" fill="#c88fb2" opacity="0.8"/>
<circle cx="949.4" cy="657.7" r="0.6" fill="#d2a0c2" opacity="0.8"/>
<circle cx="941.0" cy="661.4" r="1.0" fill="#bc7ea4" opacity="0.8"/>
<circle cx="962.6" cy="652.8" r="0.9" fill="#a2608e" opacity="0.8"/>
<circle cx="931.6" cy="647.7" r="0.8" fill="#9a5488" opacity="0.8"/>
<circle cx="955.3" cy="650.5" r="0.5" fill="#d2a0c2" opacity="0.8"/>
<circle cx="972.1" cy="675.6" r="0.7" fill="#bc7ea4" opacity="0.8"/>
<circle cx="968.8" cy="641.9" r="0.9" fill="#9a5488" opacity="0.8"/>
<circle cx="921.0" cy="636.8" r="0.9" fill="#9a5488" opacity="0.8"/>
<circle cx="981.8" cy="656.4" r="0.6" fill="#c88fb2" opacity="0.8"/>
<circle cx="912.2" cy="638.4" r="1.3" fill="#a86a98" opacity="0.8"/>
<circle cx="915.4" cy="665.5" r="1.2" fill="#a2608e" opacity="0.8"/>
<circle cx="922.3" cy="650.0" r="1.0" fill="#c88fb2" opacity="0.8"/>
<circle cx="985.4" cy="636.5" r="1.2" fill="#d2a0c2" opacity="0.8"/>
<circle cx="974.2" cy="675.8" r="0.6" fill="#a2608e" opacity="0.8"/>
<circle cx="986.8" cy="685.4" r="0.8" fill="#d2a0c2" opacity="0.8"/>
<circle cx="958.8" cy="666.3" r="1.3" fill="#9a5488" opacity="0.8"/>
<circle cx="959.8" cy="676.9" r="1.1" fill="#c88fb2" opacity="0.8"/>
<circle cx="979.6" cy="665.4" r="1.3" fill="#8a4a7c" opacity="0.8"/>
<circle cx="977.3" cy="640.7" r="0.5" fill="#c88fb2" opacity="0.8"/>
<circle cx="986.5" cy="639.2" r="0.6" fill="#a2608e" opacity="0.8"/>
<circle cx="928.6" cy="671.3" r="0.5" fill="#c88fb2" opacity="0.8"/>
<circle cx="955.0" cy="673.1" r="1.1" fill="#9a5488" opacity="0.8"/>
<circle cx="935.0" cy="652.4" r="1.0" fill="#d2a0c2" opacity="0.8"/>
<circle cx="960.4" cy="647.7" r="0.8" fill="#d2a0c2" opacity="0.8"/>
<circle cx="928.8" cy="652.4" r="0.9" fill="#a2608e" opacity="0.8"/>
<circle cx="944.6" cy="631.7" r="1.4" fill="#8a4a7c" opacity="0.8"/>
<circle cx="946.8" cy="655.6" r="1.2" fill="#8a4a7c" opacity="0.8"/>
<circle cx="946.3" cy="640.5" r="0.9" fill="#d2a0c2" opacity="0.8"/>
<circle cx="913.5" cy="650.6" r="0.6" fill="#a2608e" opacity="0.8"/>
<circle cx="944.9" cy="659.2" r="0.5" fill="#9a5488" opacity="0.8"/>
<circle cx="918.8" cy="682.4" r="1.2" fill="#a2608e" opacity="0.8"/>
<circle cx="950.7" cy="633.5" r="1.3" fill="#8a4a7c" opacity="0.8"/>
<circle cx="962.5" cy="674.6" r="1.3" fill="#9a5488" opacity="0.8"/>
<circle cx="991.3" cy="671.7" r="0.6" fill="#a86a98" opacity="0.8"/>
<circle cx="918.9" cy="680.4" r="1.4" fill="#a2608e" opacity="0.8"/>
<circle cx="984.6" cy="639.7" r="1.1" fill="#a86a98" opacity="0.8"/>
<circle cx="926.4" cy="677.4" r="1.2" fill="#8a4a7c" opacity="0.8"/>
<circle cx="921.2" cy="681.0" r="1.3" fill="#a2608e" opacity="0.8"/>
<circle cx="946.1" cy="644.7" r="0.7" fill="#d2a0c2" opacity="0.8"/>
<circle cx="929.9" cy="658.9" r="0.8" fill="#a2608e" opacity="0.8"/>
<circle cx="924.6" cy="653.2" r="1.3" fill="#bc7ea4" opacity="0.8"/>
<circle cx="964.8" cy="680.9" r="1.2" fill="#c88fb2" opacity="0.8"/>
<circle cx="930.0" cy="673.7" r="1.1" fill="#9a5488" opacity="0.8"/>
<circle cx="938.0" cy="679.6" r="1.0" fill="#8a4a7c" opacity="0.8"/>
<circle cx="965.5" cy="680.9" r="1.4" fill="#a2608e" opacity="0.8"/>
<circle cx="960.6" cy="652.6" r="0.8" fill="#a86a98" opacity="0.8"/>
<circle cx="939.3" cy="651.2" r="0.8" fill="#c88fb2" opacity="0.8"/>
<circle cx="971.9" cy="655.3" r="1.1" fill="#c88fb2" opacity="0.8"/>
<circle cx="988.1" cy="647.1" r="0.7" fill="#8a4a7c" opacity="0.8"/>
<circle cx="961.4" cy="685.9" r="1.3" fill="#8a4a7c" opacity="0.8"/>
<circle cx="982.9" cy="671.7" r="0.5" fill="#bc7ea4" opacity="0.8"/>
<circle cx="920.4" cy="665.1" r="0.9" fill="#d2a0c2" opacity="0.8"/>
<circle cx="938.4" cy="633.1" r="0.7" fill="#d2a0c2" opacity="0.8"/>
<circle cx="962.6" cy="631.7" r="1.0" fill="#9a5488" opacity="0.8"/>
<circle cx="933.3" cy="659.9" r="0.7" fill="#8a4a7c" opacity="0.8"/>
<circle cx="956.7" cy="663.6" r="0.8" fill="#c88fb2" opacity="0.8"/>
<circle cx="977.2" cy="639.3" r="1.3" fill="#9a5488" opacity="0.8"/>
<circle cx="928.3" cy="638.8" r="0.6" fill="#9a5488" opacity="0.8"/>
<circle cx="920.0" cy="667.9" r="0.9" fill="#a2608e" opacity="0.8"/>
<circle cx="930.0" cy="631.0" r="1.2" fill="#bc7ea4" opacity="0.8"/>
<circle cx="982.6" cy="663.9" r="0.9" fill="#8a4a7c" opacity="0.8"/>
<circle cx="986.3" cy="671.8" r="0.6" fill="#c88fb2" opacity="0.8"/>
<circle cx="907.9" cy="633.9" r="0.9" fill="#9a5488" opacity="0.8"/>
<circle cx="927.8" cy="633.7" r="0.6" fill="#a86a98" opacity="0.8"/>
<circle cx="959.2" cy="667.4" r="0.6" fill="#c88fb2" opacity="0.8"/>
<circle cx="924.6" cy="664.7" r="1.1" fill="#8a4a7c" opacity="0.8"/>
<circle cx="942.7" cy="665.0" r="0.8" fill="#8a4a7c" opacity="0.8"/>
<circle cx="933.0" cy="633.1" r="1.2" fill="#bc7ea4" opacity="0.8"/>
<circle cx="967.8" cy="630.8" r="0.9" fill="#a86a98" opacity="0.8"/>
<circle cx="984.3" cy="634.9" r="0.9" fill="#bc7ea4" opacity="0.8"/>
<circle cx="926.8" cy="636.3" r="1.1" fill="#c88fb2" opacity="0.8"/>
<circle cx="918.2" cy="680.7" r="1.3" fill="#bc7ea4" opacity="0.8"/>
<circle cx="929.9" cy="633.4" r="1.0" fill="#bc7ea4" opacity="0.8"/>
<circle cx="944.4" cy="674.9" r="1.4" fill="#8a4a7c" opacity="0.8"/>
<circle cx="932.6" cy="682.8" r="0.6" fill="#c88fb2" opacity="0.8"/>
<circle cx="950.4" cy="640.0" r="1.3" fill="#c88fb2" opacity="0.8"/>
<circle cx="924.9" cy="639.4" r="0.7" fill="#a2608e" opacity="0.8"/>
<circle cx="940.4" cy="664.3" r="1.3" fill="#d2a0c2" opacity="0.8"/>
<circle cx="960.7" cy="669.5" r="1.3" fill="#bc7ea4" opacity="0.8"/>
<circle cx="952.8" cy="657.0" r="1.1" fill="#8a4a7c" opacity="0.8"/>
<circle cx="979.7" cy="655.1" r="0.7" fill="#bc7ea4" opacity="0.8"/>
<circle cx="982.0" cy="674.9" r="1.1" fill="#d2a0c2" opacity="0.8"/>
<circle cx="914.4" cy="681.8" r="0.5" fill="#c88fb2" opacity="0.8"/>
<circle cx="917.3" cy="665.5" r="0.8" fill="#c88fb2" opacity="0.8"/>
<circle cx="919.8" cy="632.0" r="0.6" fill="#9a5488" opacity="0.8"/>
<circle cx="961.8" cy="632.8" r="1.2" fill="#9a5488" opacity="0.8"/>
<circle cx="913.4" cy="663.7" r="0.7" fill="#a2608e" opacity="0.8"/>
<circle cx="987.8" cy="660.5" r="0.6" fill="#bc7ea4" opacity="0.8"/>
<circle cx="980.5" cy="682.0" r="0.6" fill="#d2a0c2" opacity="0.8"/>
<circle cx="925.1" cy="636.7" r="1.4" fill="#9a5488" opacity="0.8"/>
<circle cx="984.2" cy="672.9" r="1.2" fill="#9a5488" opacity="0.8"/>
<circle cx="960.8" cy="646.6" r="0.6" fill="#9a5488" opacity="0.8"/>
<circle cx="974.2" cy="666.9" r="0.8" fill="#a2608e" opacity="0.8"/>
<circle cx="943.4" cy="631.6" r="1.3" fill="#a2608e" opacity="0.8"/>
<circle cx="912.0" cy="673.3" r="1.2" fill="#a2608e" opacity="0.8"/>
<circle cx="958.3" cy="657.3" r="1.1" fill="#a2608e" opacity="0.8"/>
<circle cx="910.5" cy="653.7" r="1.0" fill="#d2a0c2" opacity="0.8"/>
<circle cx="916.1" cy="656.8" r="1.0" fill="#9a5488" opacity="0.8"/>
<circle cx="926.0" cy="679.0" r="1.0" fill="#9a5488" opacity="0.8"/>
<circle cx="931.9" cy="655.0" r="0.7" fill="#8a4a7c" opacity="0.8"/>
<circle cx="971.7" cy="685.6" r="0.8" fill="#9a5488" opacity="0.8"/>
<circle cx="915.9" cy="669.6" r="0.7" fill="#a86a98" opacity="0.8"/>
<circle cx="949.3" cy="650.0" r="1.0" fill="#a86a98" opacity="0.8"/>
<circle cx="956.3" cy="639.4" r="0.7" fill="#a86a98" opacity="0.8"/>
<circle cx="966.4" cy="658.5" r="1.3" fill="#9a5488" opacity="0.8"/>
<circle cx="972.1" cy="658.1" r="1.0" fill="#bc7ea4" opacity="0.8"/>
<circle cx="916.7" cy="648.8" r="0.9" fill="#9a5488" opacity="0.8"/>
<circle cx="940.9" cy="680.6" r="0.9" fill="#9a5488" opacity="0.8"/>
<circle cx="962.0" cy="651.4" r="0.7" fill="#a2608e" opacity="0.8"/>
<circle cx="983.3" cy="658.7" r="1.4" fill="#d2a0c2" opacity="0.8"/>
<circle cx="960.7" cy="683.6" r="1.0" fill="#c88fb2" opacity="0.8"/>
<circle cx="971.0" cy="672.9" r="0.5" fill="#bc7ea4" opacity="0.8"/>
<circle cx="956.6" cy="659.8" r="1.3" fill="#a86a98" opacity="0.8"/>
<circle cx="963.3" cy="672.2" r="0.9" fill="#c88fb2" opacity="0.8"/>
<circle cx="965.6" cy="644.9" r="0.6" fill="#c88fb2" opacity="0.8"/>
<circle cx="946.6" cy="680.3" r="1.0" fill="#c88fb2" opacity="0.8"/>
<circle cx="930.3" cy="673.0" r="1.3" fill="#a86a98" opacity="0.8"/>
<circle cx="920.8" cy="639.2" r="1.2" fill="#c88fb2" opacity="0.8"/>
<circle cx="958.4" cy="650.1" r="0.8" fill="#c88fb2" opacity="0.8"/>
<circle cx="923.7" cy="685.4" r="1.4" fill="#bc7ea4" opacity="0.8"/>
<circle cx="921.7" cy="667.5" r="0.8" fill="#c88fb2" opacity="0.8"/>
<circle cx="990.2" cy="675.2" r="0.8" fill="#bc7ea4" opacity="0.8"/>
<circle cx="930.8" cy="636.6" r="0.8" fill="#9a5488" opacity="0.8"/>
<circle cx="982.0" cy="656.6" r="0.9" fill="#9a5488" opacity="0.8"/>
<circle cx="974.1" cy="669.5" r="1.4" fill="#8a4a7c" opacity="0.8"/>
<circle cx="932.7" cy="631.6" r="1.0" fill="#a2608e" opacity="0.8"/>
<circle cx="941.8" cy="672.2" r="0.9" fill="#a86a98" opacity="0.8"/>
<circle cx="955.9" cy="672.6" r="1.3" fill="#d2a0c2" opacity="0.8"/>
<circle cx="963.8" cy="667.2" r="1.1" fill="#a86a98" opacity="0.8"/>
<circle cx="956.8" cy="643.3" r="1.1" fill="#c88fb2" opacity="0.8"/>
<circle cx="945.9" cy="648.1" r="1.1" fill="#bc7ea4" opacity="0.8"/>
<circle cx="982.8" cy="644.1" r="1.1" fill="#d2a0c2" opacity="0.8"/>
<circle cx="960.6" cy="644.5" r="0.9" fill="#d2a0c2" opacity="0.8"/>
<circle cx="909.5" cy="678.8" r="1.1" fill="#8a4a7c" opacity="0.8"/>
<circle cx="985.8" cy="640.7" r="0.8" fill="#bc7ea4" opacity="0.8"/>
<circle cx="908.8" cy="677.3" r="0.5" fill="#9a5488" opacity="0.8"/>
<circle cx="953.4" cy="639.5" r="1.4" fill="#a86a98" opacity="0.8"/>
<circle cx="924.6" cy="650.0" r="1.0" fill="#a86a98" opacity="0.8"/>
<circle cx="953.2" cy="670.9" r="0.5" fill="#8a4a7c" opacity="0.8"/>
<circle cx="974.2" cy="651.3" r="0.9" fill="#a2608e" opacity="0.8"/>
<circle cx="987.2" cy="642.2" r="0.7" fill="#bc7ea4" opacity="0.8"/>
<circle cx="950.9" cy="683.0" r="1.4" fill="#bc7ea4" opacity="0.8"/>
<circle cx="937.7" cy="633.6" r="0.8" fill="#a2608e" opacity="0.8"/>
<circle cx="913.0" cy="634.6" r="1.1" fill="#d2a0c2" opacity="0.8"/>
<circle cx="964.4" cy="663.1" r="0.7" fill="#9a5488" opacity="0.8"/>
<circle cx="970.0" cy="683.4" r="1.4" fill="#8a4a7c" opacity="0.8"/>
<circle cx="991.1" cy="684.6" r="0.7" fill="#d2a0c2" opacity="0.8"/>
<circle cx="918.7" cy="674.2" r="1.2" fill="#a86a98" opacity="0.8"/>
<circle cx="924.1" cy="666.6" r="0.7" fill="#bc7ea4" opacity="0.8"/>
<circle cx="988.6" cy="650.3" r="1.2" fill="#bc7ea4" opacity="0.8"/>
<circle cx="974.5" cy="653.7" r="1.2" fill="#a2608e" opacity="0.8"/>
<circle cx="962.3" cy="674.4" r="0.8" fill="#d2a0c2" opacity="0.8"/>
<circle cx="979.1" cy="645.5" r="1.1" fill="#d2a0c2" opacity="0.8"/>
<circle cx="990.2" cy="668.7" r="0.5" fill="#d2a0c2" opacity="0.8"/>
<circle cx="968.3" cy="646.3" r="1.1" fill="#c88fb2" opacity="0.8"/>
<circle cx="934.7" cy="657.7" r="1.1" fill="#8a4a7c" opacity="0.8"/>
<circle cx="963.1" cy="650.8" r="1.3" fill="#a2608e" opacity="0.8"/>
<circle cx="912.7" cy="677.1" r="1.2" fill="#a2608e" opacity="0.8"/>
<circle cx="919.7" cy="677.3" r="1.0" fill="#bc7ea4" opacity="0.8"/>
<circle cx="962.9" cy="642.2" r="1.1" fill="#9a5488" opacity="0.8"/>
<circle cx="928.8" cy="636.1" r="1.3" fill="#c88fb2" opacity="0.8"/>
<circle cx="923.4" cy="655.9" r="0.6" fill="#a86a98" opacity="0.8"/>
<circle cx="983.6" cy="675.1" r="1.0" fill="#c88fb2" opacity="0.8"/>
<circle cx="965.5" cy="685.5" r="1.1" fill="#9a5488" opacity="0.8"/>
<circle cx="982.7" cy="674.8" r="0.8" fill="#a86a98" opacity="0.8"/>
<circle cx="949.3" cy="642.4" r="1.2" fill="#9a5488" opacity="0.8"/>
<circle cx="944.6" cy="680.2" r="0.6" fill="#8a4a7c" opacity="0.8"/>
<circle cx="943.0" cy="677.0" r="0.9" fill="#d2a0c2" opacity="0.8"/>
<circle cx="912.8" cy="656.7" r="1.1" fill="#c88fb2" opacity="0.8"/>
<circle cx="928.5" cy="639.7" r="1.3" fill="#8a4a7c" opacity="0.8"/>
<circle cx="908.5" cy="677.8" r="1.1" fill="#d2a0c2" opacity="0.8"/>
<circle cx="949.5" cy="647.1" r="0.8" fill="#d2a0c2" opacity="0.8"/>
<circle cx="943.0" cy="684.6" r="0.7" fill="#9a5488" opacity="0.8"/>
<circle cx="938.1" cy="666.9" r="1.0" fill="#9a5488" opacity="0.8"/>
<circle cx="965.0" cy="682.9" r="1.2" fill="#a2608e" opacity="0.8"/>
<circle cx="915.8" cy="657.7" r="1.3" fill="#a86a98" opacity="0.8"/>
<circle cx="910.7" cy="670.9" r="0.6" fill="#bc7ea4" opacity="0.8"/>
<circle cx="915.8" cy="667.6" r="0.9" fill="#a2608e" opacity="0.8"/>
<circle cx="951.9" cy="673.9" r="0.8" fill="#c88fb2" opacity="0.8"/>
<circle cx="936.5" cy="644.6" r="1.2" fill="#9a5488" opacity="0.8"/>
<circle cx="932.4" cy="677.1" r="0.8" fill="#d2a0c2" opacity="0.8"/>
<circle cx="990.3" cy="679.6" r="1.4" fill="#a2608e" opacity="0.8"/>
<circle cx="962.7" cy="675.1" r="0.7" fill="#a2608e" opacity="0.8"/>
<circle cx="967.6" cy="637.6" r="0.6" fill="#bc7ea4" opacity="0.8"/>
<circle cx="991.3" cy="652.9" r="1.3" fill="#8a4a7c" opacity="0.8"/>
<circle cx="953.6" cy="633.2" r="0.6" fill="#a2608e" opacity="0.8"/>
<circle cx="911.8" cy="676.8" r="1.0" fill="#d2a0c2" opacity="0.8"/>
<circle cx="963.0" cy="674.9" r="1.1" fill="#8a4a7c" opacity="0.8"/>
<circle cx="959.5" cy="665.8" r="1.1" fill="#bc7ea4" opacity="0.8"/>
<circle cx="981.2" cy="635.1" r="1.1" fill="#9a5488" opacity="0.8"/>
<circle cx="946.2" cy="673.4" r="1.1" fill="#9a5488" opacity="0.8"/>
<circle cx="980.7" cy="654.2" r="1.3" fill="#9a5488" opacity="0.8"/>
<circle cx="962.8" cy="651.2" r="0.6" fill="#a86a98" opacity="0.8"/>
<circle cx="933.8" cy="670.5" r="0.8" fill="#a86a98" opacity="0.8"/>
<circle cx="943.2" cy="648.4" r="1.0" fill="#d2a0c2" opacity="0.8"/>
<circle cx="956.3" cy="681.9" r="1.0" fill="#d2a0c2" opacity="0.8"/>
<circle cx="911.2" cy="637.1" r="0.9" fill="#a86a98" opacity="0.8"/>
<circle cx="966.1" cy="653.2" r="0.5" fill="#9a5488" opacity="0.8"/>
<circle cx="940.3" cy="663.8" r="1.4" fill="#bc7ea4" opacity="0.8"/>
<circle cx="947.7" cy="653.7" r="0.6" fill="#9a5488" opacity="0.8"/>
<circle cx="947.4" cy="680.9" r="0.5" fill="#bc7ea4" opacity="0.8"/>
<circle cx="908.3" cy="669.0" r="1.4" fill="#9a5488" opacity="0.8"/>
<circle cx="979.8" cy="642.7" r="0.6" fill="#9a5488" opacity="0.8"/>
<circle cx="909.4" cy="671.0" r="0.9" fill="#c88fb2" opacity="0.8"/>
<circle cx="970.2" cy="682.4" r="1.2" fill="#a2608e" opacity="0.8"/>
<circle cx="967.6" cy="678.6" r="1.2" fill="#bc7ea4" opacity="0.8"/>
<circle cx="932.4" cy="661.8" r="0.9" fill="#d2a0c2" opacity="0.8"/>
<circle cx="985.9" cy="644.7" r="1.1" fill="#9a5488" opacity="0.8"/>
<circle cx="908.9" cy="631.2" r="1.1" fill="#bc7ea4" opacity="0.8"/>
<circle cx="959.6" cy="652.3" r="1.2" fill="#a2608e" opacity="0.8"/>
<circle cx="921.8" cy="679.0" r="1.0" fill="#d2a0c2" opacity="0.8"/>
<circle cx="934.4" cy="683.9" r="0.9" fill="#bc7ea4" opacity="0.8"/>
<circle cx="964.6" cy="638.6" r="0.6" fill="#a86a98" opacity="0.8"/>
<circle cx="987.7" cy="639.7" r="0.9" fill="#a86a98" opacity="0.8"/>
<circle cx="940.2" cy="674.7" r="1.2" fill="#a2608e" opacity="0.8"/>
<circle cx="955.3" cy="646.9" r="1.1" fill="#9a5488" opacity="0.8"/>
<circle cx="962.4" cy="675.6" r="0.8" fill="#8a4a7c" opacity="0.8"/>
<circle cx="958.6" cy="685.5" r="0.6" fill="#a86a98" opacity="0.8"/>
<circle cx="977.6" cy="663.4" r="0.8" fill="#c88fb2" opacity="0.8"/>
<circle cx="965.2" cy="664.3" r="1.2" fill="#c88fb2" opacity="0.8"/>
<circle cx="931.6" cy="630.5" r="0.7" fill="#a2608e" opacity="0.8"/>
<circle cx="921.1" cy="682.3" r="1.3" fill="#a86a98" opacity="0.8"/>
<circle cx="911.4" cy="677.4" r="1.3" fill="#a86a98" opacity="0.8"/>
<circle cx="991.0" cy="638.7" r="1.2" fill="#a86a98" opacity="0.8"/>
<circle cx="953.8" cy="674.2" r="0.8" fill="#d2a0c2" opacity="0.8"/>
<circle cx="915.0" cy="661.6" r="0.8" fill="#a86a98" opacity="0.8"/>
<circle cx="973.8" cy="671.1" r="0.8" fill="#c88fb2" opacity="0.8"/>
<circle cx="912.7" cy="652.7" r="0.7" fill="#bc7ea4" opacity="0.8"/>
<circle cx="929.2" cy="672.8" r="0.8" fill="#a86a98" opacity="0.8"/>
<circle cx="953.1" cy="660.6" r="1.2" fill="#a2608e" opacity="0.8"/>
<circle cx="927.4" cy="663.1" r="1.3" fill="#a2608e" opacity="0.8"/>
<circle cx="951.6" cy="657.3" r="0.7" fill="#8a4a7c" opacity="0.8"/>
<circle cx="925.7" cy="635.6" r="1.1" fill="#a86a98" opacity="0.8"/>
<circle cx="938.3" cy="662.2" r="1.2" fill="#d2a0c2" opacity="0.8"/>
<circle cx="979.6" cy="644.3" r="0.8" fill="#d2a0c2" opacity="0.8"/>
<circle cx="916.8" cy="666.1" r="0.6" fill="#a86a98" opacity="0.8"/>
<circle cx="934.3" cy="632.1" r="1.0" fill="#a2608e" opacity="0.8"/>
<circle cx="909.6" cy="632.3" r="1.3" fill="#a86a98" opacity="0.8"/>
<circle cx="948.6" cy="662.4" r="1.3" fill="#a2608e" opacity="0.8"/>
<circle cx="931.3" cy="635.9" r="1.2" fill="#d2a0c2" opacity="0.8"/>
<circle cx="976.4" cy="684.7" r="1.3" fill="#a2608e" opacity="0.8"/>
<circle cx="936.3" cy="686.5" r="0.6" fill="#d2a0c2" opacity="0.8"/>
<circle cx="912.2" cy="661.8" r="1.1" fill="#a86a98" opacity="0.8"/>
<circle cx="948.6" cy="678.1" r="1.3" fill="#9a5488" opacity="0.8"/>
<circle cx="961.5" cy="682.4" r="1.4" fill="#bc7ea4" opacity="0.8"/>
<circle cx="929.4" cy="662.2" r="0.6" fill="#bc7ea4" opacity="0.8"/>
<circle cx="985.0" cy="659.0" r="0.9" fill="#c88fb2" opacity="0.8"/>
<circle cx="921.3" cy="684.9" r="0.7" fill="#bc7ea4" opacity="0.8"/>
<circle cx="911.1" cy="644.8" r="0.6" fill="#a2608e" opacity="0.8"/>
<circle cx="954.2" cy="632.0" r="0.7" fill="#9a5488" opacity="0.8"/>
<circle cx="950.9" cy="672.1" r="1.4" fill="#a86a98" opacity="0.8"/>
<circle cx="912.6" cy="638.6" r="0.5" fill="#a86a98" opacity="0.8"/>
<circle cx="924.6" cy="672.6" r="1.0" fill="#8a4a7c" opacity="0.8"/>
<circle cx="971.3" cy="636.3" r="0.8" fill="#a2608e" opacity="0.8"/>
<circle cx="940.5" cy="651.5" r="0.7" fill="#d2a0c2" opacity="0.8"/>
<circle cx="927.9" cy="638.5" r="1.3" fill="#bc7ea4" opacity="0.8"/>
<circle cx="947.1" cy="681.9" r="0.5" fill="#a86a98" opacity="0.8"/>
<circle cx="985.5" cy="642.8" r="1.3" fill="#8a4a7c" opacity="0.8"/>
<circle cx="982.3" cy="638.3" r="1.4" fill="#d2a0c2" opacity="0.8"/>
<circle cx="985.4" cy="652.1" r="1.1" fill="#9a5488" opacity="0.8"/>
<circle cx="945.8" cy="649.6" r="0.7" fill="#a86a98" opacity="0.8"/>
<circle cx="917.6" cy="651.0" r="0.7" fill="#a2608e" opacity="0.8"/>
<circle cx="912.6" cy="670.7" r="1.3" fill="#8a4a7c" opacity="0.8"/>
<circle cx="944.6" cy="638.8" r="0.9" fill="#d2a0c2" opacity="0.8"/>
<circle cx="920.9" cy="645.7" r="0.8" fill="#a86a98" opacity="0.8"/>
<circle cx="975.2" cy="645.1" r="0.8" fill="#9a5488" opacity="0.8"/>
<circle cx="983.5" cy="636.8" r="0.6" fill="#8a4a7c" opacity="0.8"/>
<circle cx="982.8" cy="668.1" r="1.0" fill="#c88fb2" opacity="0.8"/>
<circle cx="977.8" cy="637.1" r="0.7" fill="#a86a98" opacity="0.8"/>
<circle cx="938.4" cy="686.3" r="1.3" fill="#c88fb2" opacity="0.8"/>
<circle cx="916.1" cy="646.7" r="0.6" fill="#c88fb2" opacity="0.8"/>
<circle cx="968.7" cy="647.0" r="0.5" fill="#bc7ea4" opacity="0.8"/>
<circle cx="975.4" cy="649.6" r="0.9" fill="#c88fb2" opacity="0.8"/>
<circle cx="974.0" cy="683.6" r="0.7" fill="#a2608e" opacity="0.8"/>
<circle cx="944.3" cy="681.8" r="0.7" fill="#c88fb2" opacity="0.8"/>
<circle cx="923.0" cy="678.0" r="1.2" fill="#8a4a7c" opacity="0.8"/>
<circle cx="967.5" cy="641.5" r="1.2" fill="#9a5488" opacity="0.8"/>
<circle cx="982.3" cy="671.6" r="0.7" fill="#a86a98" opacity="0.8"/>
<circle cx="925.1" cy="664.9" r="1.1" fill="#bc7ea4" opacity="0.8"/>
<circle cx="924.0" cy="647.8" r="0.6" fill="#9a5488" opacity="0.8"/>
<circle cx="969.2" cy="653.4" r="1.3" fill="#bc7ea4" opacity="0.8"/>
<circle cx="951.3" cy="650.0" r="1.3" fill="#a2608e" opacity="0.8"/>
<circle cx="980.3" cy="658.2" r="0.9" fill="#9a5488" opacity="0.8"/>
<circle cx="971.8" cy="637.9" r="0.7" fill="#bc7ea4" opacity="0.8"/>
<circle cx="923.5" cy="677.3" r="0.5" fill="#a2608e" opacity="0.8"/>
<circle cx="966.7" cy="662.8" r="0.5" fill="#a86a98" opacity="0.8"/>
<circle cx="951.4" cy="655.5" r="0.6" fill="#8a4a7c" opacity="0.8"/>
<circle cx="937.8" cy="644.2" r="1.3" fill="#a86a98" opacity="0.8"/>
<circle cx="934.8" cy="670.5" r="1.0" fill="#d2a0c2" opacity="0.8"/>
<circle cx="983.1" cy="646.8" r="1.4" fill="#9a5488" opacity="0.8"/>
<circle cx="949.3" cy="659.4" r="1.2" fill="#8a4a7c" opacity="0.8"/>
<circle cx="919.1" cy="644.1" r="0.7" fill="#9a5488" opacity="0.8"/>
<circle cx="923.2" cy="636.2" r="1.0" fill="#a2608e" opacity="0.8"/>
<circle cx="987.9" cy="631.5" r="1.2" fill="#bc7ea4" opacity="0.8"/>
<circle cx="929.8" cy="677.6" r="1.0" fill="#bc7ea4" opacity="0.8"/>
<circle cx="951.7" cy="670.0" r="0.8" fill="#9a5488" opacity="0.8"/>
<circle cx="915.8" cy="640.5" r="0.6" fill="#a2608e" opacity="0.8"/>
<circle cx="949.2" cy="658.6" r="0.6" fill="#a2608e" opacity="0.8"/>
<circle cx="918.1" cy="680.3" r="1.0" fill="#8a4a7c" opacity="0.8"/>
<circle cx="980.0" cy="638.7" r="0.9" fill="#8a4a7c" opacity="0.8"/>
<circle cx="941.1" cy="683.9" r="1.3" fill="#9a5488" opacity="0.8"/>
<circle cx="940.4" cy="654.1" r="1.0" fill="#a86a98" opacity="0.8"/>
<circle cx="910.9" cy="685.1" r="1.2" fill="#9a5488" opacity="0.8"/>
<circle cx="936.2" cy="644.0" r="1.1" fill="#a2608e" opacity="0.8"/>
<circle cx="978.5" cy="662.2" r="1.2" fill="#a2608e" opacity="0.8"/>
<circle cx="978.8" cy="633.4" r="0.6" fill="#8a4a7c" opacity="0.8"/>
<circle cx="964.8" cy="650.3" r="0.9" fill="#a86a98" opacity="0.8"/>
<circle cx="960.9" cy="651.0" r="0.7" fill="#8a4a7c" opacity="0.8"/>
<circle cx="935.0" cy="641.7" r="0.5" fill="#bc7ea4" opacity="0.8"/>
<circle cx="919.6" cy="685.1" r="1.4" fill="#a86a98" opacity="0.8"/>
<circle cx="945.9" cy="633.0" r="0.5" fill="#9a5488" opacity="0.8"/>
<circle cx="961.6" cy="645.4" r="1.1" fill="#bc7ea4" opacity="0.8"/>
<circle cx="960.5" cy="675.9" r="1.1" fill="#9a5488" opacity="0.8"/>
<circle cx="928.9" cy="659.7" r="0.7" fill="#d2a0c2" opacity="0.8"/>
<circle cx="911.2" cy="636.8" r="1.1" fill="#a2608e" opacity="0.8"/>
<circle cx="918.0" cy="663.9" r="1.3" fill="#8a4a7c" opacity="0.8"/>
<circle cx="915.0" cy="663.7" r="0.9" fill="#c88fb2" opacity="0.8"/>
<circle cx="950.7" cy="680.3" r="1.0" fill="#d2a0c2" opacity="0.8"/>
<circle cx="930.8" cy="671.9" r="1.0" fill="#bc7ea4" opacity="0.8"/>
<circle cx="978.2" cy="664.8" r="0.7" fill="#8a4a7c" opacity="0.8"/>
<circle cx="940.3" cy="661.3" r="0.9" fill="#a2608e" opacity="0.8"/>
<circle cx="953.8" cy="665.0" r="1.2" fill="#d2a0c2" opacity="0.8"/>
<circle cx="910.5" cy="649.2" r="1.0" fill="#c88fb2" opacity="0.8"/>
<circle cx="940.0" cy="663.4" r="1.3" fill="#9a5488" opacity="0.8"/>
<circle cx="921.5" cy="684.1" r="1.0" fill="#a2608e" opacity="0.8"/>
<circle cx="949.0" cy="646.5" r="0.8" fill="#c88fb2" opacity="0.8"/>
<circle cx="972.5" cy="639.3" r="1.0" fill="#9a5488" opacity="0.8"/>
<circle cx="937.0" cy="667.5" r="0.8" fill="#8a4a7c" opacity="0.8"/>
<circle cx="944.7" cy="671.9" r="1.0" fill="#9a5488" opacity="0.8"/>
<circle cx="990.7" cy="668.6" r="0.9" fill="#c88fb2" opacity="0.8"/>
<circle cx="963.8" cy="638.3" r="1.1" fill="#c88fb2" opacity="0.8"/>
<circle cx="979.0" cy="676.7" r="0.6" fill="#8a4a7c" opacity="0.8"/>
<circle cx="979.6" cy="682.4" r="0.7" fill="#d2a0c2" opacity="0.8"/>
<circle cx="960.7" cy="666.1" r="0.6" fill="#bc7ea4" opacity="0.8"/>
<circle cx="980.8" cy="630.6" r="1.0" fill="#a86a98" opacity="0.8"/>
<circle cx="917.7" cy="652.8" r="0.6" fill="#8a4a7c" opacity="0.8"/>
<circle cx="979.0" cy="646.2" r="1.0" fill="#8a4a7c" opacity="0.8"/>
<circle cx="939.7" cy="655.9" r="0.8" fill="#d2a0c2" opacity="0.8"/>
<circle cx="937.4" cy="650.3" r="1.0" fill="#8a4a7c" opacity="0.8"/>
<circle cx="940.1" cy="648.6" r="1.2" fill="#a86a98" opacity="0.8"/>
<circle cx="990.7" cy="651.9" r="0.7" fill="#a2608e" opacity="0.8"/>
<circle cx="933.3" cy="638.6" r="0.8" fill="#8a4a7c" opacity="0.8"/>
<circle cx="927.3" cy="676.7" r="0.8" fill="#a2608e" opacity="0.8"/>
<circle cx="978.5" cy="677.7" r="0.7" fill="#a2608e" opacity="0.8"/>
<circle cx="943.6" cy="681.8" r="0.5" fill="#9a5488" opacity="0.8"/>
<circle cx="929.4" cy="680.9" r="1.3" fill="#a2608e" opacity="0.8"/>
<circle cx="972.6" cy="660.8" r="1.0" fill="#d2a0c2" opacity="0.8"/>
<circle cx="951.2" cy="669.0" r="0.9" fill="#d2a0c2" opacity="0.8"/>
<circle cx="911.3" cy="668.5" r="1.4" fill="#d2a0c2" opacity="0.8"/>
<circle cx="964.5" cy="660.0" r="0.9" fill="#9a5488" opacity="0.8"/>
<circle cx="949.8" cy="667.0" r="0.6" fill="#8a4a7c" opacity="0.8"/>
<circle cx="923.7" cy="654.2" r="0.9" fill="#d2a0c2" opacity="0.8"/>
<circle cx="960.2" cy="686.6" r="1.1" fill="#a2608e" opacity="0.8"/>
<circle cx="970.4" cy="635.6" r="0.8" fill="#a2608e" opacity="0.8"/>
<circle cx="989.8" cy="677.0" r="0.7" fill="#8a4a7c" opacity="0.8"/>
<circle cx="962.8" cy="647.0" r="1.2" fill="#a2608e" opacity="0.8"/>
<circle cx="990.8" cy="680.5" r="1.1" fill="#d2a0c2" opacity="0.8"/>
<circle cx="951.8" cy="676.4" r="1.0" fill="#c88fb2" opacity="0.8"/>
<circle cx="923.6" cy="640.7" r="1.0" fill="#bc7ea4" opacity="0.8"/>
<circle cx="916.8" cy="662.5" r="1.1" fill="#bc7ea4" opacity="0.8"/>
<circle cx="911.4" cy="653.6" r="0.5" fill="#a86a98" opacity="0.8"/>
<circle cx="967.4" cy="661.6" r="0.9" fill="#a2608e" opacity="0.8"/>
<circle cx="916.1" cy="631.3" r="0.7" fill="#9a5488" opacity="0.8"/>
<circle cx="949.6" cy="661.6" r="1.3" fill="#a2608e" opacity="0.8"/>
<circle cx="982.9" cy="659.4" r="1.0" fill="#c88fb2" opacity="0.8"/>
<circle cx="942.3" cy="637.3" r="1.0" fill="#c88fb2" opacity="0.8"/>
<circle cx="950.5" cy="632.0" r="0.7" fill="#9a5488" opacity="0.8"/>
<circle cx="951.6" cy="676.8" r="0.9" fill="#8a4a7c" opacity="0.8"/>
<circle cx="974.9" cy="667.1" r="1.2" fill="#bc7ea4" opacity="0.8"/>
<circle cx="934.9" cy="670.8" r="0.7" fill="#a2608e" opacity="0.8"/>
<circle cx="910.7" cy="665.9" r="1.3" fill="#a86a98" opacity="0.8"/>
<circle cx="956.6" cy="650.1" r="1.1" fill="#d2a0c2" opacity="0.8"/>
<circle cx="909.5" cy="642.8" r="1.0" fill="#d2a0c2" opacity="0.8"/>
<circle cx="988.2" cy="655.2" r="0.7" fill="#8a4a7c" opacity="0.8"/>
<circle cx="926.6" cy="639.4" r="1.3" fill="#8a4a7c" opacity="0.8"/>
<circle cx="934.2" cy="681.1" r="0.9" fill="#a86a98" opacity="0.8"/>
<circle cx="942.9" cy="644.6" r="1.4" fill="#d2a0c2" opacity="0.8"/>
<circle cx="913.6" cy="668.6" r="1.1" fill="#bc7ea4" opacity="0.8"/>
<circle cx="926.4" cy="647.8" r="0.9" fill="#bc7ea4" opacity="0.8"/>
<circle cx="974.3" cy="644.1" r="0.7" fill="#c88fb2" opacity="0.8"/>
<circle cx="939.6" cy="630.8" r="0.9" fill="#a2608e" opacity="0.8"/>
<circle cx="938.3" cy="649.3" r="0.8" fill="#a86a98" opacity="0.8"/>
<circle cx="941.6" cy="634.1" r="0.9" fill="#9a5488" opacity="0.8"/>
<circle cx="984.3" cy="661.6" r="0.7" fill="#d2a0c2" opacity="0.8"/>
<circle cx="931.6" cy="643.8" r="0.8" fill="#9a5488" opacity="0.8"/>
<circle cx="910.0" cy="675.8" r="1.1" fill="#c88fb2" opacity="0.8"/>
<circle cx="915.7" cy="645.6" r="1.2" fill="#a86a98" opacity="0.8"/>
<circle cx="954.4" cy="656.7" r="1.2" fill="#a86a98" opacity="0.8"/>
<circle cx="921.2" cy="650.3" r="0.9" fill="#bc7ea4" opacity="0.8"/>
<circle cx="960.6" cy="663.2" r="1.4" fill="#a2608e" opacity="0.8"/>
<circle cx="950.2" cy="643.2" r="1.1" fill="#d2a0c2" opacity="0.8"/>
<circle cx="986.8" cy="686.7" r="1.3" fill="#8a4a7c" opacity="0.8"/>
<circle cx="957.1" cy="651.2" r="0.9" fill="#c88fb2" opacity="0.8"/>
<circle cx="950.6" cy="637.5" r="0.6" fill="#a86a98" opacity="0.8"/>
<circle cx="950.8" cy="661.0" r="1.2" fill="#a2608e" opacity="0.8"/>
<circle cx="971.9" cy="632.0" r="1.0" fill="#bc7ea4" opacity="0.8"/>
<circle cx="933.9" cy="652.4" r="1.1" fill="#9a5488" opacity="0.8"/>
<circle cx="972.9" cy="643.5" r="1.1" fill="#c88fb2" opacity="0.8"/>
<circle cx="917.0" cy="662.1" r="1.2" fill="#a2608e" opacity="0.8"/>
<circle cx="971.4" cy="641.3" r="0.8" fill="#bc7ea4" opacity="0.8"/>
<circle cx="926.9" cy="637.5" r="0.9" fill="#bc7ea4" opacity="0.8"/>
<circle cx="937.7" cy="678.0" r="1.2" fill="#d2a0c2" opacity="0.8"/>
<circle cx="981.8" cy="679.0" r="1.3" fill="#c88fb2" opacity="0.8"/>
<circle cx="922.7" cy="651.1" r="1.1" fill="#a86a98" opacity="0.8"/>
<circle cx="937.3" cy="653.7" r="1.1" fill="#bc7ea4" opacity="0.8"/>
<circle cx="946.6" cy="686.8" r="0.8" fill="#d2a0c2" opacity="0.8"/>
<circle cx="960.5" cy="640.6" r="0.7" fill="#9a5488" opacity="0.8"/>
<circle cx="958.9" cy="642.8" r="0.5" fill="#bc7ea4" opacity="0.8"/>
<circle cx="911.2" cy="639.5" r="1.2" fill="#c88fb2" opacity="0.8"/>
<circle cx="921.0" cy="672.0" r="0.8" fill="#8a4a7c" opacity="0.8"/>
<circle cx="961.3" cy="640.5" r="0.7" fill="#a86a98" opacity="0.8"/>
<circle cx="949.6" cy="659.8" r="1.1" fill="#d2a0c2" opacity="0.8"/>
<circle cx="956.1" cy="683.2" r="1.3" fill="#9a5488" opacity="0.8"/>
<circle cx="972.9" cy="646.5" r="1.3" fill="#9a5488" opacity="0.8"/>
<circle cx="956.9" cy="669.7" r="1.1" fill="#c88fb2" opacity="0.8"/>
<circle cx="911.0" cy="648.4" r="1.3" fill="#a86a98" opacity="0.8"/>
<circle cx="970.6" cy="635.3" r="1.2" fill="#bc7ea4" opacity="0.8"/>
<circle cx="991.4" cy="665.1" r="0.8" fill="#c88fb2" opacity="0.8"/>
<circle cx="915.4" cy="683.8" r="0.9" fill="#d2a0c2" opacity="0.8"/>
<circle cx="936.4" cy="658.8" r="1.2" fill="#bc7ea4" opacity="0.8"/>
<circle cx="960.5" cy="655.9" r="1.1" fill="#9a5488" opacity="0.8"/>
<circle cx="925.1" cy="668.4" r="1.3" fill="#a86a98" opacity="0.8"/>
<circle cx="918.6" cy="673.4" r="1.4" fill="#9a5488" opacity="0.8"/>
<circle cx="977.0" cy="661.9" r="1.0" fill="#c88fb2" opacity="0.8"/>
<circle cx="989.0" cy="666.4" r="0.7" fill="#8a4a7c" opacity="0.8"/>
<circle cx="988.6" cy="639.9" r="0.9" fill="#a2608e" opacity="0.8"/>
<circle cx="924.8" cy="647.9" r="1.1" fill="#c88fb2" opacity="0.8"/>
<circle cx="948.6" cy="657.6" r="0.7" fill="#bc7ea4" opacity="0.8"/>
<circle cx="951.0" cy="655.5" r="0.8" fill="#bc7ea4" opacity="0.8"/>
<circle cx="933.0" cy="680.3" r="1.0" fill="#c88fb2" opacity="0.8"/>
<circle cx="928.1" cy="665.9" r="1.0" fill="#9a5488" opacity="0.8"/>
<circle cx="971.6" cy="639.9" r="0.6" fill="#bc7ea4" opacity="0.8"/>
<circle cx="989.9" cy="677.7" r="1.2" fill="#d2a0c2" opacity="0.8"/>
<circle cx="917.5" cy="646.7" r="0.9" fill="#a2608e" opacity="0.8"/>
<circle cx="911.5" cy="680.9" r="0.7" fill="#a2608e" opacity="0.8"/>
<circle cx="966.6" cy="655.7" r="0.6" fill="#9a5488" opacity="0.8"/>
<circle cx="945.2" cy="662.5" r="0.7" fill="#a2608e" opacity="0.8"/>
<circle cx="913.9" cy="631.0" r="0.9" fill="#a86a98" opacity="0.8"/>
<circle cx="970.4" cy="649.1" r="1.0" fill="#bc7ea4" opacity="0.8"/>
<circle cx="917.0" cy="658.0" r="0.9" fill="#d2a0c2" opacity="0.8"/>
<circle cx="973.5" cy="648.6" r="1.3" fill="#a2608e" opacity="0.8"/>
<circle cx="961.8" cy="665.8" r="1.1" fill="#bc7ea4" opacity="0.8"/>
<circle cx="928.9" cy="644.3" r="1.2" fill="#c88fb2" opacity="0.8"/>
<circle cx="910.0" cy="652.7" r="0.8" fill="#c88fb2" opacity="0.8"/>
<circle cx="923.4" cy="666.4" r="1.3" fill="#a86a98" opacity="0.8"/>
<circle cx="965.0" cy="636.2" r="1.2" fill="#bc7ea4" opacity="0.8"/>
<circle cx="970.0" cy="648.8" r="1.1" fill="#c88fb2" opacity="0.8"/>
<circle cx="937.7" cy="643.4" r="1.0" fill="#c88fb2" opacity="0.8"/>
<circle cx="938.8" cy="677.3" r="0.6" fill="#c88fb2" opacity="0.8"/>
<circle cx="916.9" cy="675.7" r="1.4" fill="#a86a98" opacity="0.8"/>
<circle cx="941.6" cy="633.3" r="0.9" fill="#c88fb2" opacity="0.8"/>
<circle cx="949.7" cy="639.3" r="1.0" fill="#a2608e" opacity="0.8"/>
<circle cx="960.3" cy="638.4" r="0.6" fill="#c88fb2" opacity="0.8"/>
<circle cx="945.0" cy="685.1" r="1.4" fill="#9a5488" opacity="0.8"/>
<circle cx="979.1" cy="657.4" r="1.2" fill="#c88fb2" opacity="0.8"/>
<circle cx="908.1" cy="677.8" r="1.3" fill="#a86a98" opacity="0.8"/>
<circle cx="950.7" cy="638.5" r="1.1" fill="#9a5488" opacity="0.8"/>
<circle cx="951.0" cy="654.2" r="0.6" fill="#a2608e" opacity="0.8"/>
<circle cx="908.6" cy="684.3" r="1.3" fill="#c88fb2" opacity="0.8"/>
<circle cx="921.7" cy="647.1" r="1.2" fill="#d2a0c2" opacity="0.8"/>
<circle cx="964.4" cy="662.4" r="0.6" fill="#d2a0c2" opacity="0.8"/>
<circle cx="935.0" cy="656.4" r="1.3" fill="#8a4a7c" opacity="0.8"/>
<circle cx="980.3" cy="685.4" r="1.1" fill="#8a4a7c" opacity="0.8"/>
<circle cx="975.8" cy="633.8" r="0.8" fill="#bc7ea4" opacity="0.8"/>
<circle cx="963.0" cy="662.3" r="1.4" fill="#d2a0c2" opacity="0.8"/>
<circle cx="948.1" cy="666.9" r="1.3" fill="#a2608e" opacity="0.8"/>
<circle cx="952.3" cy="666.1" r="0.7" fill="#a86a98" opacity="0.8"/>
<circle cx="964.7" cy="655.6" r="0.6" fill="#9a5488" opacity="0.8"/>
<circle cx="956.4" cy="661.7" r="0.8" fill="#d2a0c2" opacity="0.8"/>
<circle cx="928.0" cy="655.3" r="0.6" fill="#a2608e" opacity="0.8"/>
<circle cx="923.0" cy="680.6" r="1.2" fill="#8a4a7c" opacity="0.8"/>
<circle cx="926.4" cy="677.6" r="0.6" fill="#bc7ea4" opacity="0.8"/>
<circle cx="952.3" cy="644.6" r="0.7" fill="#d2a0c2" opacity="0.8"/>
<circle cx="946.2" cy="660.9" r="0.6" fill="#bc7ea4" opacity="0.8"/>
<circle cx="950.9" cy="663.6" r="1.3" fill="#9a5488" opacity="0.8"/>
<circle cx="964.8" cy="675.5" r="1.3" fill="#c88fb2" opacity="0.8"/>
<circle cx="954.0" cy="670.7" r="1.4" fill="#a86a98" opacity="0.8"/>
<circle cx="960.3" cy="684.6" r="0.6" fill="#8a4a7c" opacity="0.8"/>
<circle cx="977.4" cy="652.5" r="1.4" fill="#c88fb2" opacity="0.8"/>
<circle cx="923.9" cy="657.2" r="0.6" fill="#9a5488" opacity="0.8"/>
<circle cx="972.9" cy="633.6" r="0.5" fill="#c88fb2" opacity="0.8"/>
<circle cx="911.4" cy="670.0" r="0.9" fill="#c88fb2" opacity="0.8"/>
<circle cx="918.0" cy="638.0" r="1.1" fill="#9a5488" opacity="0.8"/>
<circle cx="980.9" cy="662.2" r="1.3" fill="#bc7ea4" opacity="0.8"/>
<circle cx="922.0" cy="672.4" r="1.2" fill="#a2608e" opacity="0.8"/>
<circle cx="969.5" cy="631.1" r="0.6" fill="#a2608e" opacity="0.8"/>
<circle cx="939.1" cy="672.0" r="1.1" fill="#a2608e" opacity="0.8"/>
<circle cx="911.5" cy="664.5" r="0.8" fill="#9a5488" opacity="0.8"/>
<circle cx="935.3" cy="664.4" r="1.3" fill="#9a5488" opacity="0.8"/>
<circle cx="964.4" cy="644.8" r="1.1" fill="#c88fb2" opacity="0.8"/>
<circle cx="909.7" cy="686.2" r="0.6" fill="#d2a0c2" opacity="0.8"/>
<circle cx="909.7" cy="636.6" r="0.7" fill="#a86a98" opacity="0.8"/>
<circle cx="920.5" cy="682.9" r="1.1" fill="#a86a98" opacity="0.8"/>
<circle cx="939.8" cy="638.5" r="1.0" fill="#a2608e" opacity="0.8"/>
<circle cx="965.6" cy="676.0" r="0.5" fill="#d2a0c2" opacity="0.8"/>
<circle cx="936.6" cy="638.9" r="0.9" fill="#8a4a7c" opacity="0.8"/>
<circle cx="910.5" cy="677.6" r="0.7" fill="#9a5488" opacity="0.8"/>
<circle cx="976.4" cy="668.7" r="1.3" fill="#d2a0c2" opacity="0.8"/>
<circle cx="988.9" cy="669.5" r="0.9" fill="#d2a0c2" opacity="0.8"/>
<circle cx="981.0" cy="664.9" r="0.8" fill="#9a5488" opacity="0.8"/>
<circle cx="952.1" cy="648.0" r="1.0" fill="#c88fb2" opacity="0.8"/>
<circle cx="911.6" cy="640.0" r="1.2" fill="#a2608e" opacity="0.8"/>
<circle cx="935.6" cy="656.8" r="0.8" fill="#a2608e" opacity="0.8"/>
<circle cx="936.0" cy="657.7" r="0.5" fill="#c88fb2" opacity="0.8"/>
<circle cx="946.4" cy="686.0" r="1.1" fill="#9a5488" opacity="0.8"/>
<circle cx="968.7" cy="638.5" r="0.7" fill="#d2a0c2" opacity="0.8"/>
<circle cx="949.8" cy="645.2" r="1.0" fill="#8a4a7c" opacity="0.8"/>
<circle cx="956.8" cy="638.2" r="0.5" fill="#bc7ea4" opacity="0.8"/>
<circle cx="954.8" cy="673.9" r="0.7" fill="#a86a98" opacity="0.8"/>
<circle cx="943.6" cy="662.6" r="0.8" fill="#9a5488" opacity="0.8"/>
<circle cx="931.5" cy="675.3" r="1.2" fill="#a86a98" opacity="0.8"/>
<circle cx="919.7" cy="634.5" r="0.8" fill="#a86a98" opacity="0.8"/>
<circle cx="938.3" cy="678.5" r="0.8" fill="#c88fb2" opacity="0.8"/>
<circle cx="954.0" cy="653.3" r="1.1" fill="#9a5488" opacity="0.8"/>
<circle cx="964.1" cy="680.2" r="0.9" fill="#a86a98" opacity="0.8"/>
<circle cx="938.6" cy="644.1" r="1.4" fill="#c88fb2" opacity="0.8"/>
<circle cx="920.5" cy="642.0" r="1.1" fill="#a86a98" opacity="0.8"/>
<circle cx="941.8" cy="652.7" r="0.8" fill="#a86a98" opacity="0.8"/>
<circle cx="922.0" cy="634.1" r="1.1" fill="#a2608e" opacity="0.8"/>
<circle cx="929.0" cy="662.7" r="1.3" fill="#bc7ea4" opacity="0.8"/>
<circle cx="936.4" cy="682.4" r="1.3" fill="#8a4a7c" opacity="0.8"/>
<circle cx="956.9" cy="647.6" r="1.4" fill="#a2608e" opacity="0.8"/>
<circle cx="937.8" cy="674.1" r="1.1" fill="#d2a0c2" opacity="0.8"/>
<circle cx="985.1" cy="677.7" r="1.3" fill="#a2608e" opacity="0.8"/>
<circle cx="931.0" cy="644.9" r="1.2" fill="#9a5488" opacity="0.8"/>
<circle cx="960.3" cy="643.8" r="0.7" fill="#9a5488" opacity="0.8"/>
<circle cx="941.3" cy="641.7" r="0.8" fill="#8a4a7c" opacity="0.8"/>
<circle cx="949.9" cy="636.0" r="1.2" fill="#c88fb2" opacity="0.8"/>
<circle cx="988.5" cy="664.3" r="0.6" fill="#9a5488" opacity="0.8"/>
<circle cx="976.2" cy="662.9" r="0.6" fill="#bc7ea4" opacity="0.8"/>
<circle cx="923.7" cy="660.7" r="1.1" fill="#9a5488" opacity="0.8"/>
<circle cx="985.1" cy="642.4" r="1.3" fill="#a2608e" opacity="0.8"/>
<circle cx="910.2" cy="657.8" r="1.1" fill="#8a4a7c" opacity="0.8"/>
<circle cx="936.2" cy="633.6" r="1.2" fill="#d2a0c2" opacity="0.8"/>
<circle cx="915.2" cy="665.0" r="0.9" fill="#a86a98" opacity="0.8"/>
<circle cx="957.9" cy="644.9" r="1.3" fill="#d2a0c2" opacity="0.8"/>
<circle cx="910.1" cy="648.3" r="1.4" fill="#bc7ea4" opacity="0.8"/>
<circle cx="912.6" cy="665.0" r="1.3" fill="#bc7ea4" opacity="0.8"/>
<circle cx="921.0" cy="631.4" r="0.6" fill="#c88fb2" opacity="0.8"/>
<circle cx="972.1" cy="635.5" r="0.8" fill="#a86a98" opacity="0.8"/>
<circle cx="936.7" cy="668.8" r="1.0" fill="#a86a98" opacity="0.8"/>
<circle cx="962.9" cy="664.3" r="0.7" fill="#a2608e" opacity="0.8"/>
<circle cx="959.7" cy="676.3" r="1.2" fill="#d2a0c2" opacity="0.8"/>
<circle cx="972.9" cy="647.8" r="1.0" fill="#a86a98" opacity="0.8"/>
<circle cx="967.0" cy="661.9" r="1.0" fill="#a2608e" opacity="0.8"/>
<circle cx="986.7" cy="637.8" r="1.0" fill="#9a5488" opacity="0.8"/>
<circle cx="916.3" cy="676.0" r="0.6" fill="#a2608e" opacity="0.8"/>
<circle cx="960.5" cy="653.0" r="1.3" fill="#9a5488" opacity="0.8"/>
<circle cx="960.2" cy="637.3" r="1.0" fill="#8a4a7c" opacity="0.8"/>
<circle cx="954.4" cy="640.7" r="0.8" fill="#8a4a7c" opacity="0.8"/>
<circle cx="920.4" cy="640.4" r="1.3" fill="#bc7ea4" opacity="0.8"/>
<circle cx="973.1" cy="660.2" r="1.2" fill="#a2608e" opacity="0.8"/>
<circle cx="928.2" cy="685.8" r="0.7" fill="#d2a0c2" opacity="0.8"/>
<circle cx="984.3" cy="681.2" r="0.9" fill="#d2a0c2" opacity="0.8"/>
<circle cx="935.0" cy="681.4" r="1.1" fill="#9a5488" opacity="0.8"/>
<circle cx="909.2" cy="675.9" r="1.1" fill="#d2a0c2" opacity="0.8"/>
<circle cx="937.3" cy="643.3" r="0.9" fill="#d2a0c2" opacity="0.8"/>
<circle cx="984.8" cy="683.7" r="1.3" fill="#bc7ea4" opacity="0.8"/>
<circle cx="910.5" cy="631.6" r="0.9" fill="#bc7ea4" opacity="0.8"/>
<circle cx="927.3" cy="641.9" r="0.9" fill="#a86a98" opacity="0.8"/>
<circle cx="931.2" cy="680.0" r="0.7" fill="#d2a0c2" opacity="0.8"/>
<circle cx="955.6" cy="639.2" r="1.3" fill="#a86a98" opacity="0.8"/>
<circle cx="972.3" cy="684.2" r="1.2" fill="#c88fb2" opacity="0.8"/>
<circle cx="931.6" cy="649.1" r="1.3" fill="#d2a0c2" opacity="0.8"/>
<circle cx="928.8" cy="648.4" r="1.0" fill="#8a4a7c" opacity="0.8"/>
<circle cx="945.8" cy="663.1" r="0.7" fill="#a86a98" opacity="0.8"/>
<circle cx="981.9" cy="650.7" r="1.2" fill="#a86a98" opacity="0.8"/>
<circle cx="944.7" cy="654.9" r="1.4" fill="#c88fb2" opacity="0.8"/>
<circle cx="932.8" cy="631.8" r="0.6" fill="#9a5488" opacity="0.8"/>
<circle cx="984.3" cy="637.9" r="0.6" fill="#a2608e" opacity="0.8"/>
<circle cx="969.5" cy="635.9" r="0.9" fill="#c88fb2" opacity="0.8"/>
<circle cx="941.1" cy="653.8" r="1.3" fill="#bc7ea4" opacity="0.8"/>
<circle cx="967.9" cy="680.1" r="1.0" fill="#9a5488" opacity="0.8"/>
<circle cx="924.8" cy="665.8" r="0.5" fill="#9a5488" opacity="0.8"/>
<circle cx="950.2" cy="643.5" r="1.1" fill="#d2a0c2" opacity="0.8"/>
<circle cx="968.9" cy="633.1" r="0.6" fill="#a2608e" opacity="0.8"/>
<circle cx="917.1" cy="684.4" r="1.0" fill="#c88fb2" opacity="0.8"/>
<circle cx="908.1" cy="643.0" r="0.6" fill="#8a4a7c" opacity="0.8"/>
<circle cx="969.7" cy="658.6" r="1.0" fill="#9a5488" opacity="0.8"/>
<circle cx="978.2" cy="684.4" r="0.8" fill="#9a5488" opacity="0.8"/>
<circle cx="925.9" cy="685.0" r="1.2" fill="#c88fb2" opacity="0.8"/>
<circle cx="930.7" cy="640.4" r="0.7" fill="#a2608e" opacity="0.8"/>
<circle cx="988.8" cy="641.5" r="0.9" fill="#9a5488" opacity="0.8"/>
<circle cx="954.5" cy="650.9" r="0.8" fill="#9a5488" opacity="0.8"/>
<circle cx="911.4" cy="656.0" r="1.0" fill="#a2608e" opacity="0.8"/>
<circle cx="965.7" cy="685.8" r="1.2" fill="#a86a98" opacity="0.8"/>
<circle cx="930.4" cy="654.2" r="0.9" fill="#8a4a7c" opacity="0.8"/>
<circle cx="989.3" cy="652.2" r="1.3" fill="#d2a0c2" opacity="0.8"/>
<circle cx="975.2" cy="681.1" r="0.5" fill="#bc7ea4" opacity="0.8"/>
<circle cx="958.8" cy="682.6" r="1.1" fill="#a2608e" opacity="0.8"/>
<circle cx="969.0" cy="686.3" r="0.7" fill="#a86a98" opacity="0.8"/>
<circle cx="917.6" cy="677.9" r="0.5" fill="#a86a98" opacity="0.8"/>
<circle cx="967.9" cy="653.3" r="0.8" fill="#8a4a7c" opacity="0.8"/>
<circle cx="962.0" cy="661.4" r="0.9" fill="#a2608e" opacity="0.8"/>
<circle cx="956.3" cy="657.1" r="1.3" fill="#bc7ea4" opacity="0.8"/>
<circle cx="950.6" cy="663.8" r="0.7" fill="#d2a0c2" opacity="0.8"/>
<circle cx="960.6" cy="672.3" r="0.8" fill="#d2a0c2" opacity="0.8"/>
<circle cx="913.3" cy="685.4" r="1.1" fill="#a2608e" opacity="0.8"/>
<circle cx="964.6" cy="648.6" r="1.2" fill="#bc7ea4" opacity="0.8"/>
<circle cx="963.5" cy="682.5" r="0.7" fill="#a86a98" opacity="0.8"/>
<circle cx="984.0" cy="657.1" r="0.8" fill="#bc7ea4" opacity="0.8"/>
<circle cx="957.2" cy="662.6" r="0.6" fill="#c88fb2" opacity="0.8"/>
<circle cx="971.3" cy="650.9" r="1.0" fill="#c88fb2" opacity="0.8"/>
<circle cx="976.0" cy="643.9" r="0.6" fill="#c88fb2" opacity="0.8"/>
<circle cx="963.3" cy="640.4" r="1.3" fill="#a86a98" opacity="0.8"/>
<circle cx="962.5" cy="681.8" r="0.8" fill="#a2608e" opacity="0.8"/>
<circle cx="977.5" cy="676.5" r="0.9" fill="#9a5488" opacity="0.8"/>
<circle cx="966.7" cy="651.6" r="0.8" fill="#a2608e" opacity="0.8"/>
<circle cx="975.1" cy="659.8" r="1.1" fill="#d2a0c2" opacity="0.8"/>
<circle cx="930.9" cy="646.8" r="1.1" fill="#d2a0c2" opacity="0.8"/>
<circle cx="945.5" cy="657.4" r="0.7" fill="#a86a98" opacity="0.8"/>
<circle cx="951.2" cy="630.7" r="0.8" fill="#c88fb2" opacity="0.8"/>
<circle cx="951.5" cy="643.8" r="1.0" fill="#a2608e" opacity="0.8"/>
<circle cx="975.0" cy="644.7" r="0.7" fill="#8a4a7c" opacity="0.8"/>
<circle cx="955.7" cy="633.7" r="0.8" fill="#c88fb2" opacity="0.8"/>
<circle cx="953.5" cy="682.1" r="0.7" fill="#a2608e" opacity="0.8"/>
<circle cx="977.7" cy="635.6" r="0.9" fill="#bc7ea4" opacity="0.8"/>
<circle cx="915.3" cy="637.6" r="0.8" fill="#a86a98" opacity="0.8"/>
<circle cx="973.3" cy="682.3" r="0.9" fill="#bc7ea4" opacity="0.8"/>
<circle cx="938.6" cy="670.6" r="1.4" fill="#a2608e" opacity="0.8"/>
<circle cx="944.0" cy="664.7" r="0.8" fill="#a2608e" opacity="0.8"/>
<circle cx="940.2" cy="663.0" r="0.7" fill="#8a4a7c" opacity="0.8"/>
<circle cx="989.2" cy="670.6" r="0.6" fill="#a2608e" opacity="0.8"/>
<circle cx="924.9" cy="678.9" r="1.2" fill="#9a5488" opacity="0.8"/>
<circle cx="939.7" cy="660.1" r="1.3" fill="#d2a0c2" opacity="0.8"/>
<circle cx="961.7" cy="675.0" r="1.0" fill="#9a5488" opacity="0.8"/>
<circle cx="946.6" cy="656.5" r="0.9" fill="#a86a98" opacity="0.8"/>
<circle cx="991.2" cy="640.3" r="0.9" fill="#9a5488" opacity="0.8"/>
<circle cx="949.0" cy="659.3" r="0.5" fill="#a86a98" opacity="0.8"/>
<circle cx="927.4" cy="641.7" r="0.5" fill="#8a4a7c" opacity="0.8"/>
<circle cx="964.8" cy="661.6" r="0.8" fill="#a86a98" opacity="0.8"/>
<circle cx="946.4" cy="635.5" r="0.6" fill="#a86a98" opacity="0.8"/>
<circle cx="976.3" cy="636.1" r="1.3" fill="#9a5488" opacity="0.8"/>
<circle cx="925.9" cy="656.0" r="1.1" fill="#a86a98" opacity="0.8"/>
<circle cx="967.4" cy="657.6" r="1.0" fill="#9a5488" opacity="0.8"/>
<circle cx="970.5" cy="678.0" r="1.4" fill="#c88fb2" opacity="0.8"/>
<circle cx="976.3" cy="679.6" r="0.8" fill="#c88fb2" opacity="0.8"/>
<circle cx="923.8" cy="685.8" r="1.4" fill="#c88fb2" opacity="0.8"/>
<circle cx="930.9" cy="645.2" r="0.8" fill="#a2608e" opacity="0.8"/>
<circle cx="963.5" cy="647.3" r="1.0" fill="#d2a0c2" opacity="0.8"/>
<circle cx="943.1" cy="633.3" r="0.7" fill="#a2608e" opacity="0.8"/>
<circle cx="939.7" cy="655.0" r="0.7" fill="#8a4a7c" opacity="0.8"/>
<circle cx="924.8" cy="633.3" r="1.1" fill="#8a4a7c" opacity="0.8"/>
<circle cx="985.9" cy="667.4" r="1.0" fill="#bc7ea4" opacity="0.8"/>
<circle cx="938.5" cy="675.6" r="0.9" fill="#c88fb2" opacity="0.8"/>
<circle cx="967.1" cy="667.8" r="0.8" fill="#bc7ea4" opacity="0.8"/>
<circle cx="952.5" cy="653.5" r="1.2" fill="#8a4a7c" opacity="0.8"/>
<circle cx="910.9" cy="642.8" r="0.8" fill="#d2a0c2" opacity="0.8"/>
<circle cx="967.4" cy="675.7" r="1.0" fill="#8a4a7c" opacity="0.8"/>
<circle cx="941.9" cy="671.4" r="1.3" fill="#c88fb2" opacity="0.8"/>
<circle cx="912.7" cy="654.9" r="0.6" fill="#bc7ea4" opacity="0.8"/>
<circle cx="919.4" cy="680.0" r="1.0" fill="#a86a98" opacity="0.8"/>
<circle cx="923.0" cy="682.4" r="1.2" fill="#8a4a7c" opacity="0.8"/>
<circle cx="921.6" cy="642.9" r="1.1" fill="#bc7ea4" opacity="0.8"/>
<circle cx="932.6" cy="642.3" r="0.6" fill="#a86a98" opacity="0.8"/>
<circle cx="973.0" cy="670.7" r="0.6" fill="#8a4a7c" opacity="0.8"/>
<circle cx="915.9" cy="674.6" r="0.9" fill="#9a5488" opacity="0.8"/>
<circle cx="963.0" cy="644.9" r="1.1" fill="#d2a0c2" opacity="0.8"/>
<circle cx="920.9" cy="633.6" r="0.6" fill="#bc7ea4" opacity="0.8"/>
<circle cx="921.3" cy="655.6" r="0.7" fill="#a86a98" opacity="0.8"/>
<circle cx="956.6" cy="648.4" r="1.1" fill="#8a4a7c" opacity="0.8"/>
<circle cx="933.8" cy="645.0" r="1.3" fill="#8a4a7c" opacity="0.8"/>
<circle cx="920.6" cy="675.5" r="0.9" fill="#c88fb2" opacity="0.8"/>
<circle cx="910.7" cy="651.8" r="0.8" fill="#bc7ea4" opacity="0.8"/>
<circle cx="962.7" cy="669.6" r="0.9" fill="#c88fb2" opacity="0.8"/>
<circle cx="968.9" cy="654.6" r="0.9" fill="#bc7ea4" opacity="0.8"/>
<circle cx="911.1" cy="650.2" r="1.3" fill="#bc7ea4" opacity="0.8"/>
<circle cx="991.3" cy="683.4" r="0.6" fill="#8a4a7c" opacity="0.8"/>
<circle cx="948.9" cy="631.4" r="0.9" fill="#a86a98" opacity="0.8"/>
<circle cx="985.7" cy="635.6" r="0.8" fill="#d2a0c2" opacity="0.8"/>
<circle cx="933.3" cy="663.3" r="0.6" fill="#a86a98" opacity="0.8"/>
<circle cx="919.6" cy="645.7" r="1.3" fill="#a86a98" opacity="0.8"/>
<circle cx="926.9" cy="682.5" r="1.0" fill="#9a5488" opacity="0.8"/>
<circle cx="916.3" cy="630.5" r="1.3" fill="#c88fb2" opacity="0.8"/>
<circle cx="962.9" cy="633.2" r="0.8" fill="#a2608e" opacity="0.8"/>
<circle cx="948.2" cy="649.0" r="0.7" fill="#a2608e" opacity="0.8"/>
<circle cx="973.8" cy="647.2" r="1.2" fill="#9a5488" opacity="0.8"/>
<circle cx="946.0" cy="672.5" r="1.2" fill="#9a5488" opacity="0.8"/>
<circle cx="957.8" cy="656.4" r="0.5" fill="#9a5488" opacity="0.8"/>
<circle cx="956.4" cy="653.7" r="0.6" fill="#bc7ea4" opacity="0.8"/>
<circle cx="956.3" cy="650.3" r="1.2" fill="#a2608e" opacity="0.8"/>
<circle cx="969.4" cy="650.7" r="1.3" fill="#bc7ea4" opacity="0.8"/>
<circle cx="935.7" cy="677.9" r="1.3" fill="#a86a98" opacity="0.8"/>
<circle cx="933.3" cy="645.1" r="1.3" fill="#9a5488" opacity="0.8"/>
<circle cx="917.7" cy="658.4" r="1.0" fill="#8a4a7c" opacity="0.8"/>
<circle cx="935.0" cy="644.3" r="1.0" fill="#8a4a7c" opacity="0.8"/>
<circle cx="950.3" cy="651.1" r="0.8" fill="#c88fb2" opacity="0.8"/>
<circle cx="954.4" cy="686.1" r="1.2" fill="#c88fb2" opacity="0.8"/>
<circle cx="952.7" cy="643.9" r="0.5" fill="#9a5488" opacity="0.8"/>
<circle cx="986.9" cy="657.9" r="1.1" fill="#a86a98" opacity="0.8"/>
<circle cx="925.6" cy="672.3" r="1.2" fill="#9a5488" opacity="0.8"/>
<circle cx="920.8" cy="645.3" r="0.9" fill="#9a5488" opacity="0.8"/>
<circle cx="960.1" cy="636.6" r="1.3" fill="#8a4a7c" opacity="0.8"/>
<circle cx="915.0" cy="663.0" r="0.7" fill="#c88fb2" opacity="0.8"/>
<circle cx="972.8" cy="659.3" r="0.6" fill="#a86a98" opacity="0.8"/>
<circle cx="928.5" cy="664.2" r="0.5" fill="#9a5488" opacity="0.8"/>
<circle cx="959.6" cy="669.4" r="0.8" fill="#a86a98" opacity="0.8"/>
<circle cx="914.9" cy="673.2" r="1.3" fill="#8a4a7c" opacity="0.8"/>
<circle cx="908.8" cy="683.4" r="1.2" fill="#d2a0c2" opacity="0.8"/>
<circle cx="910.6" cy="674.9" r="1.2" fill="#c88fb2" opacity="0.8"/>
<circle cx="964.7" cy="638.9" r="1.2" fill="#a2608e" opacity="0.8"/>
<circle cx="925.0" cy="682.6" r="0.8" fill="#bc7ea4" opacity="0.8"/>
<circle cx="989.6" cy="686.6" r="1.3" fill="#a86a98" opacity="0.8"/>
<circle cx="911.1" cy="660.0" r="1.3" fill="#a2608e" opacity="0.8"/>
<circle cx="970.8" cy="666.3" r="1.3" fill="#c88fb2" opacity="0.8"/>
<circle cx="912.1" cy="651.0" r="0.6" fill="#d2a0c2" opacity="0.8"/>
<circle cx="968.0" cy="650.1" r="1.2" fill="#c88fb2" opacity="0.8"/>
<circle cx="949.1" cy="673.9" r="0.6" fill="#d2a0c2" opacity="0.8"/>
<circle cx="977.2" cy="683.3" r="1.2" fill="#9a5488" opacity="0.8"/>
<circle cx="977.6" cy="675.6" r="0.6" fill="#8a4a7c" opacity="0.8"/>
<circle cx="940.2" cy="666.5" r="1.0" fill="#a86a98" opacity="0.8"/>
<circle cx="970.5" cy="663.9" r="1.4" fill="#bc7ea4" opacity="0.8"/>
<circle cx="917.6" cy="685.0" r="1.2" fill="#a86a98" opacity="0.8"/>
<circle cx="970.7" cy="678.2" r="0.7" fill="#c88fb2" opacity="0.8"/>
<circle cx="946.2" cy="643.7" r="1.0" fill="#d2a0c2" opacity="0.8"/>
<circle cx="986.0" cy="680.6" r="0.9" fill="#9a5488" opacity="0.8"/>
<circle cx="973.5" cy="675.2" r="1.2" fill="#bc7ea4" opacity="0.8"/>
<circle cx="936.6" cy="651.8" r="0.7" fill="#9a5488" opacity="0.8"/>
<circle cx="964.1" cy="675.1" r="1.0" fill="#bc7ea4" opacity="0.8"/>
<circle cx="977.9" cy="675.1" r="0.8" fill="#9a5488" opacity="0.8"/>
<circle cx="958.4" cy="684.0" r="0.9" fill="#a86a98" opacity="0.8"/>
<circle cx="942.3" cy="647.3" r="0.8" fill="#c88fb2" opacity="0.8"/>
<circle cx="925.8" cy="650.3" r="0.9" fill="#a86a98" opacity="0.8"/>
<circle cx="910.6" cy="649.3" r="0.7" fill="#a2608e" opacity="0.8"/>
<circle cx="982.4" cy="653.4" r="1.2" fill="#8a4a7c" opacity="0.8"/>
<circle cx="918.0" cy="668.9" r="0.8" fill="#9a5488" opacity="0.8"/>
<circle cx="982.9" cy="652.4" r="1.4" fill="#a2608e" opacity="0.8"/>
<circle cx="938.2" cy="643.0" r="1.0" fill="#a86a98" opacity="0.8"/>
<circle cx="982.7" cy="652.6" r="0.8" fill="#d2a0c2" opacity="0.8"/>
<circle cx="981.2" cy="675.0" r="0.7" fill="#8a4a7c" opacity="0.8"/>
<circle cx="977.4" cy="639.5" r="0.5" fill="#8a4a7c" opacity="0.8"/>
<circle cx="979.3" cy="636.3" r="0.9" fill="#c88fb2" opacity="0.8"/>
<circle cx="975.6" cy="644.5" r="1.1" fill="#a2608e" opacity="0.8"/>
<circle cx="990.3" cy="671.8" r="1.0" fill="#a86a98" opacity="0.8"/>
<circle cx="939.4" cy="682.8" r="1.1" fill="#a2608e" opacity="0.8"/>
<circle cx="914.3" cy="665.6" r="0.7" fill="#d2a0c2" opacity="0.8"/>
<circle cx="932.7" cy="647.6" r="1.1" fill="#bc7ea4" opacity="0.8"/>
<circle cx="939.4" cy="659.9" r="0.6" fill="#bc7ea4" opacity="0.8"/>
<circle cx="962.7" cy="658.2" r="1.4" fill="#bc7ea4" opacity="0.8"/>
<circle cx="912.7" cy="677.5" r="0.6" fill="#bc7ea4" opacity="0.8"/>
<circle cx="939.5" cy="647.9" r="1.3" fill="#8a4a7c" opacity="0.8"/>
<circle cx="968.9" cy="672.7" r="1.4" fill="#9a5488" opacity="0.8"/>
<circle cx="948.3" cy="630.8" r="0.6" fill="#a2608e" opacity="0.8"/>
<circle cx="957.1" cy="662.9" r="1.4" fill="#9a5488" opacity="0.8"/>
<circle cx="922.4" cy="663.7" r="1.1" fill="#a2608e" opacity="0.8"/>
<circle cx="928.1" cy="674.0" r="0.9" fill="#9a5488" opacity="0.8"/>
<circle cx="989.8" cy="667.0" r="1.4" fill="#a86a98" opacity="0.8"/>
<circle cx="961.4" cy="658.2" r="0.8" fill="#bc7ea4" opacity="0.8"/>
<circle cx="983.5" cy="648.7" r="1.0" fill="#a86a98" opacity="0.8"/>
<circle cx="977.0" cy="675.2" r="1.3" fill="#a2608e" opacity="0.8"/>
<circle cx="924.7" cy="675.9" r="0.6" fill="#9a5488" opacity="0.8"/>
<circle cx="969.7" cy="640.0" r="1.3" fill="#a2608e" opacity="0.8"/>
<circle cx="957.1" cy="685.2" r="1.4" fill="#a86a98" opacity="0.8"/>
<circle cx="988.4" cy="641.0" r="1.3" fill="#a2608e" opacity="0.8"/>
<circle cx="947.6" cy="665.4" r="0.9" fill="#d2a0c2" opacity="0.8"/>
<circle cx="964.9" cy="650.8" r="0.8" fill="#a2608e" opacity="0.8"/>
<circle cx="988.6" cy="645.5" r="1.3" fill="#c88fb2" opacity="0.8"/>
<circle cx="960.0" cy="658.7" r="1.1" fill="#d2a0c2" opacity="0.8"/>
<circle cx="973.1" cy="648.2" r="0.8" fill="#c88fb2" opacity="0.8"/>
<circle cx="952.7" cy="667.7" r="1.1" fill="#a86a98" opacity="0.8"/>
<circle cx="970.9" cy="645.9" r="1.1" fill="#a2608e" opacity="0.8"/>
<circle cx="941.0" cy="676.1" r="1.1" fill="#a86a98" opacity="0.8"/>
<circle cx="929.6" cy="673.9" r="1.0" fill="#9a5488" opacity="0.8"/>
<circle cx="966.3" cy="647.6" r="1.3" fill="#8a4a7c" opacity="0.8"/>
<circle cx="930.1" cy="644.1" r="1.3" fill="#9a5488" opacity="0.8"/>
<circle cx="916.0" cy="664.4" r="0.9" fill="#a86a98" opacity="0.8"/>
<circle cx="975.5" cy="636.7" r="0.6" fill="#a2608e" opacity="0.8"/>
<circle cx="922.7" cy="671.2" r="1.1" fill="#bc7ea4" opacity="0.8"/>
<circle cx="972.7" cy="652.6" r="1.2" fill="#a86a98" opacity="0.8"/>
<circle cx="936.5" cy="652.5" r="0.8" fill="#a86a98" opacity="0.8"/>
<circle cx="980.3" cy="670.6" r="1.0" fill="#c88fb2" opacity="0.8"/>
<circle cx="951.5" cy="668.2" r="0.6" fill="#a2608e" opacity="0.8"/>
<circle cx="936.3" cy="634.1" r="0.6" fill="#d2a0c2" opacity="0.8"/>
<circle cx="908.2" cy="662.8" r="1.0" fill="#c88fb2" opacity="0.8"/>
<circle cx="941.7" cy="662.8" r="1.2" fill="#a2608e" opacity="0.8"/>
<circle cx="964.8" cy="678.5" r="0.6" fill="#c88fb2" opacity="0.8"/>
<circle cx="964.1" cy="672.9" r="0.6" fill="#8a4a7c" opacity="0.8"/>
<circle cx="931.6" cy="632.3" r="1.3" fill="#a86a98" opacity="0.8"/>
<circle cx="939.8" cy="646.6" r="1.1" fill="#bc7ea4" opacity="0.8"/>
<circle cx="966.8" cy="664.9" r="1.1" fill="#a2608e" opacity="0.8"/>
<circle cx="972.5" cy="664.5" r="0.7" fill="#8a4a7c" opacity="0.8"/>
<circle cx="925.7" cy="643.0" r="0.8" fill="#9a5488" opacity="0.8"/>
<circle cx="955.5" cy="680.5" r="0.8" fill="#9a5488" opacity="0.8"/>
<circle cx="966.4" cy="634.5" r="1.4" fill="#a86a98" opacity="0.8"/>
<circle cx="926.2" cy="656.2" r="0.6" fill="#a86a98" opacity="0.8"/>
<circle cx="930.9" cy="633.7" r="1.0" fill="#d2a0c2" opacity="0.8"/>
<circle cx="957.8" cy="632.2" r="1.2" fill="#8a4a7c" opacity="0.8"/>
<circle cx="917.2" cy="643.1" r="1.3" fill="#bc7ea4" opacity="0.8"/>
<circle cx="988.6" cy="660.3" r="0.7" fill="#c88fb2" opacity="0.8"/>
<circle cx="974.3" cy="642.2" r="1.4" fill="#a86a98" opacity="0.8"/>
<circle cx="956.2" cy="670.6" r="1.2" fill="#c88fb2" opacity="0.8"/>
<circle cx="910.3" cy="658.9" r="0.8" fill="#d2a0c2" opacity="0.8"/>
<circle cx="987.8" cy="645.8" r="1.0" fill="#9a5488" opacity="0.8"/>
<circle cx="941.4" cy="659.3" r="0.9" fill="#8a4a7c" opacity="0.8"/>
<circle cx="963.7" cy="680.1" r="1.2" fill="#9a5488" opacity="0.8"/>
<circle cx="988.4" cy="649.0" r="0.6" fill="#a2608e" opacity="0.8"/>
<circle cx="947.9" cy="637.9" r="1.4" fill="#d2a0c2" opacity="0.8"/>
<circle cx="981.6" cy="665.2" r="0.8" fill="#c88fb2" opacity="0.8"/>
<circle cx="923.8" cy="653.1" r="1.2" fill="#a2608e" opacity="0.8"/>
<circle cx="914.3" cy="681.0" r="0.9" fill="#9a5488" opacity="0.8"/>
<circle cx="924.4" cy="670.1" r="1.2" fill="#c88fb2" opacity="0.8"/>
<circle cx="924.7" cy="673.0" r="1.4" fill="#a86a98" opacity="0.8"/>
<circle cx="970.5" cy="683.9" r="1.2" fill="#bc7ea4" opacity="0.8"/>
<circle cx="968.1" cy="633.9" r="0.9" fill="#c88fb2" opacity="0.8"/>
<circle cx="977.8" cy="666.6" r="1.1" fill="#bc7ea4" opacity="0.8"/>
<circle cx="930.0" cy="650.4" r="1.0" fill="#c88fb2" opacity="0.8"/>
<circle cx="934.3" cy="650.4" r="0.5" fill="#9a5488" opacity="0.8"/>
<circle cx="922.6" cy="650.4" r="1.2" fill="#9a5488" opacity="0.8"/>
<circle cx="946.0" cy="636.2" r="1.3" fill="#9a5488" opacity="0.8"/>
<circle cx="938.4" cy="680.3" r="1.4" fill="#d2a0c2" opacity="0.8"/>
<circle cx="984.2" cy="675.2" r="1.3" fill="#d2a0c2" opacity="0.8"/>
<circle cx="989.6" cy="678.3" r="1.0" fill="#8a4a7c" opacity="0.8"/>
<circle cx="950.4" cy="642.2" r="1.1" fill="#a2608e" opacity="0.8"/>
<circle cx="986.4" cy="641.3" r="1.4" fill="#a2608e" opacity="0.8"/>
<circle cx="990.0" cy="655.0" r="1.2" fill="#bc7ea4" opacity="0.8"/>
<circle cx="921.4" cy="681.0" r="0.6" fill="#d2a0c2" opacity="0.8"/>
<circle cx="909.0" cy="642.5" r="1.0" fill="#8a4a7c" opacity="0.8"/>
<circle cx="910.2" cy="676.3" r="0.6" fill="#a86a98" opacity="0.8"/>
<circle cx="973.2" cy="641.9" r="1.0" fill="#8a4a7c" opacity="0.8"/>
<circle cx="913.8" cy="648.6" r="1.0" fill="#8a4a7c" opacity="0.8"/>
<circle cx="946.5" cy="673.8" r="0.5" fill="#c88fb2" opacity="0.8"/>
<circle cx="925.0" cy="650.4" r="0.6" fill="#9a5488" opacity="0.8"/>
<circle cx="981.4" cy="683.7" r="0.9" fill="#d2a0c2" opacity="0.8"/>
<circle cx="956.9" cy="666.3" r="1.3" fill="#bc7ea4" opacity="0.8"/>
<circle cx="971.7" cy="662.6" r="0.5" fill="#bc7ea4" opacity="0.8"/>
<circle cx="947.3" cy="653.0" r="1.3" fill="#bc7ea4" opacity="0.8"/>
<circle cx="990.8" cy="670.8" r="1.1" fill="#d2a0c2" opacity="0.8"/>
<circle cx="947.4" cy="638.4" r="1.0" fill="#d2a0c2" opacity="0.8"/>
<circle cx="913.2" cy="643.9" r="0.5" fill="#c88fb2" opacity="0.8"/>
<circle cx="955.3" cy="672.4" r="1.1" fill="#c88fb2" opacity="0.8"/>
<circle cx="970.0" cy="632.6" r="1.3" fill="#9a5488" opacity="0.8"/>
<circle cx="924.7" cy="630.5" r="0.5" fill="#d2a0c2" opacity="0.8"/>
<circle cx="928.0" cy="682.9" r="1.2" fill="#c88fb2" opacity="0.8"/>
<circle cx="911.6" cy="661.8" r="1.3" fill="#8a4a7c" opacity="0.8"/>
<circle cx="929.9" cy="639.1" r="0.9" fill="#9a5488" opacity="0.8"/>
<circle cx="988.0" cy="673.2" r="0.6" fill="#bc7ea4" opacity="0.8"/>
<circle cx="919.9" cy="660.2" r="1.0" fill="#8a4a7c" opacity="0.8"/>
<circle cx="916.8" cy="674.8" r="1.3" fill="#d2a0c2" opacity="0.8"/>
<circle cx="908.1" cy="678.4" r="1.1" fill="#8a4a7c" opacity="0.8"/>
<circle cx="915.1" cy="662.1" r="1.0" fill="#8a4a7c" opacity="0.8"/>
<circle cx="974.8" cy="634.8" r="1.1" fill="#9a5488" opacity="0.8"/>
<circle cx="959.4" cy="656.2" r="0.5" fill="#bc7ea4" opacity="0.8"/>
<circle cx="970.3" cy="631.8" r="1.0" fill="#a86a98" opacity="0.8"/>
<circle cx="978.0" cy="642.2" r="1.1" fill="#bc7ea4" opacity="0.8"/>
<circle cx="925.2" cy="654.6" r="1.1" fill="#9a5488" opacity="0.8"/>
<circle cx="915.1" cy="659.7" r="0.6" fill="#bc7ea4" opacity="0.8"/>
<circle cx="969.0" cy="678.3" r="1.4" fill="#a86a98" opacity="0.8"/>
<circle cx="915.4" cy="645.9" r="1.2" fill="#a2608e" opacity="0.8"/>
<circle cx="920.3" cy="664.6" r="1.2" fill="#a2608e" opacity="0.8"/>
<circle cx="908.5" cy="634.6" r="1.1" fill="#9a5488" opacity="0.8"/>
<circle cx="972.1" cy="642.5" r="0.9" fill="#d2a0c2" opacity="0.8"/>
<circle cx="942.0" cy="664.9" r="0.7" fill="#bc7ea4" opacity="0.8"/>
<circle cx="971.4" cy="672.8" r="1.3" fill="#9a5488" opacity="0.8"/>
<path d="M910 653.5 Q930 652 948 653" stroke="#e0b8d4" stroke-width="1.4" fill="none" opacity="0.9"/>
<path d="M909 681 L926 676 L918 686 Z" fill="#9098c0" opacity="0.45"/>
<rect x="907.4" y="629.9" width="84.7" height="57.4" fill="none" stroke="#8a5078" stroke-width="0.8" opacity="0.6"/>
<path d="M818 715.5 C828 715.5 834 722 833 731 C832 739 824 740 822 746 C820 752 828 758 826 766 C824 772 816 774 808 772.5 C798 770 793 760 793 748 C793 735 800 722 808 717.5 C811 716 815 715.5 818 715.5 Z" fill="url(#gKid)" stroke="#2a1408" stroke-width="1.3"/>
<rect x="821.5" y="742.5" width="20" height="8" fill="url(#gVes)"/>
<path d="M826 751 C830 756 832 762 832.5 783 M829 751 C833 756 835 762 835.5 783" fill="none" stroke="#aaa" stroke-width="0.9"/>
<path d="M924 768 C934 768 941 773 943 783 C945 792 941 800 939 806 C938 811 936 815 936.5 817 L948.5 820 C957 822 961 827 962 833 L964 850 L968 864 L958 865 L956.5 864 L955 872 L954 882 L900 882.5 L899.5 870 L898 858 L896 848 L892 855.5 L881 855.5 L884 840 L888 830 C890 826 893 824.5 896 824 L913.8 815 C912 814 908 814 905 813.5 L905 805 C903 805 903 803 904.5 801 L904 798 L900 797 L905 786 C906 775 914 768 924 768 Z" fill="#f9dcbc" stroke="#e0b8a0" stroke-width="0.8"/>
<path d="M901 797 C902 791 906 789 913 789 L921 789 C924 790 924 793 923 797 L922 812 L920 824 L918.5 824 L917.5 812 L918 797 L906 797 Z" fill="#c8483e"/>
<line x1="919.5" y1="824" x2="921.5" y2="838" stroke="#8a4a3a" stroke-width="1"/>
<line x1="921.5" y1="838" x2="926" y2="843" stroke="#8a4a3a" stroke-width="1"/>
<path d="M916 824.5 C909 830 901 845 899 866 C905 861 913 857 918.5 855 L918 838 Z" fill="#f6c8b8" stroke="#9a3a2a" stroke-width="1.8"/>
<path d="M930 823.5 C940 828 950 842 953 852 L952 868 C946 864 937 858 932 856 C933 850 931 845 928 839 Z" fill="#f6c8b8" stroke="#9a3a2a" stroke-width="1.8"/>
<path d="M899.5 868 C910 859 920 855.5 926 855.5 C936 856 946 862 952 868.5" fill="none" stroke="#9a3a2a" stroke-width="2"/>
</svg>
</body></html>
